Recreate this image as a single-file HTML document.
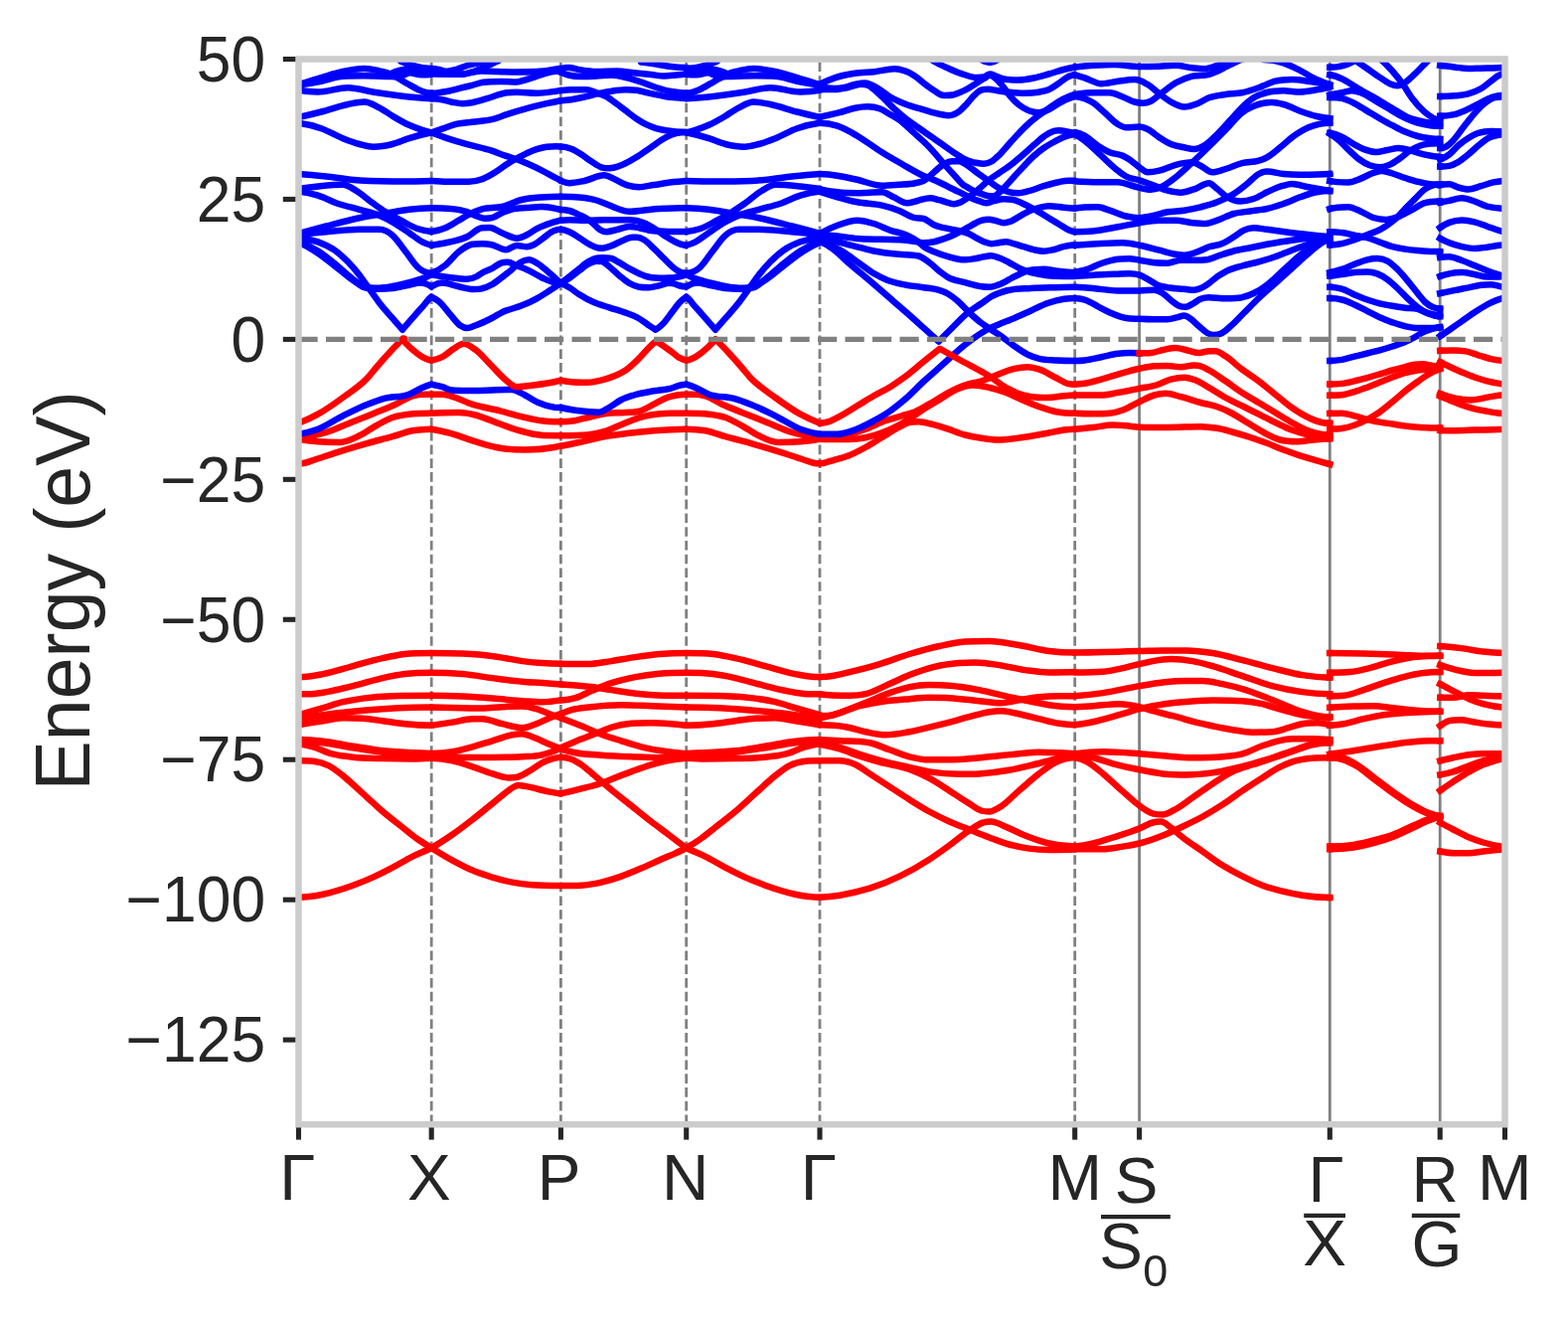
<!DOCTYPE html>
<html lang="en"><head><meta charset="utf-8"><title>Band structure</title>
<style>html,body{margin:0;padding:0;background:#fff}svg{display:block}text{font-family:"Liberation Sans",sans-serif;fill:#262626}</style></head><body>
<svg width="1578" height="1337" viewBox="0 0 1578 1337">
<rect width="1578" height="1337" fill="#ffffff"/>
<defs><clipPath id="ax"><rect x="300.5" y="59.5" width="1214.0" height="1071.7"/></clipPath></defs>
<g stroke="#262626" stroke-width="5.1" fill="none">
<line x1="284.8" y1="59.50" x2="300.5" y2="59.50"/>
<line x1="284.8" y1="200.44" x2="300.5" y2="200.44"/>
<line x1="284.8" y1="341.39" x2="300.5" y2="341.39"/>
<line x1="284.8" y1="482.33" x2="300.5" y2="482.33"/>
<line x1="284.8" y1="623.27" x2="300.5" y2="623.27"/>
<line x1="284.8" y1="764.21" x2="300.5" y2="764.21"/>
<line x1="284.8" y1="905.16" x2="300.5" y2="905.16"/>
<line x1="284.8" y1="1046.10" x2="300.5" y2="1046.10"/>
<line x1="300.5" y1="1131.2" x2="300.5" y2="1146.6"/>
<line x1="434.2" y1="1131.2" x2="434.2" y2="1146.6"/>
<line x1="564.4" y1="1131.2" x2="564.4" y2="1146.6"/>
<line x1="690.7" y1="1131.2" x2="690.7" y2="1146.6"/>
<line x1="825.0" y1="1131.2" x2="825.0" y2="1146.6"/>
<line x1="1081.7" y1="1131.2" x2="1081.7" y2="1146.6"/>
<line x1="1146.6" y1="1131.2" x2="1146.6" y2="1146.6"/>
<line x1="1338.3" y1="1131.2" x2="1338.3" y2="1146.6"/>
<line x1="1449.2" y1="1131.2" x2="1449.2" y2="1146.6"/>
<line x1="1514.5" y1="1131.2" x2="1514.5" y2="1146.6"/>
</g>
<g clip-path="url(#ax)">
<g stroke="#808080" stroke-width="2.8" fill="none">
<line x1="434.2" y1="1131.2" x2="434.2" y2="59.5" stroke-dasharray="9.6 4.155"/>
<line x1="564.4" y1="1131.2" x2="564.4" y2="59.5" stroke-dasharray="9.6 4.155"/>
<line x1="690.7" y1="1131.2" x2="690.7" y2="59.5" stroke-dasharray="9.6 4.155"/>
<line x1="825.0" y1="1131.2" x2="825.0" y2="59.5" stroke-dasharray="9.6 4.155"/>
<line x1="1081.7" y1="1131.2" x2="1081.7" y2="59.5" stroke-dasharray="9.6 4.155"/>
<line x1="1146.6" y1="1131.2" x2="1146.6" y2="59.5"/>
<line x1="1338.3" y1="1131.2" x2="1338.3" y2="59.5"/>
<line x1="1449.2" y1="1131.2" x2="1449.2" y2="59.5"/>
</g>
<g stroke="#ff0000" stroke-width="6.5" fill="none" stroke-linejoin="round" stroke-linecap="round">
<path d="M300.5 440.8C309.8 439.8 319.1 437.9 328.3 435.0C336.7 432.4 345.0 428.3 353.3 425.0C361.7 421.7 370.0 418.4 378.3 415.0C385.0 412.3 391.7 409.7 398.3 406.7C403.9 404.1 409.4 400.0 415.0 398.3C419.4 397.0 423.9 396.7 428.3 396.7C430.3 396.7 432.2 396.7 434.2 396.7"/>
<path d="M300.5 441.7C307.0 442.8 313.5 443.6 320.0 444.2C327.2 444.8 334.4 445.0 341.7 445.0C348.3 445.0 355.0 441.5 361.7 438.3C367.2 435.7 372.8 431.4 378.3 428.3C383.9 425.3 389.4 421.9 395.0 420.0C400.6 418.1 406.1 417.3 411.7 416.7C419.2 415.8 426.7 415.8 434.2 415.8"/>
<path d="M300.5 466.3C302.6 466.3 304.6 466.1 306.7 465.7C310.0 465.0 313.3 463.6 316.7 462.5C323.3 460.4 330.0 458.0 336.7 455.8C347.8 452.3 358.9 449.0 370.0 445.8C378.3 443.5 386.7 441.5 395.0 439.2C401.7 437.3 408.3 434.6 415.0 433.3C421.4 432.1 427.8 431.7 434.2 431.7"/>
<path d="M690.7 396.7C692.7 396.7 694.6 396.7 696.6 396.7C701.1 396.7 705.5 397.0 710.0 398.3C715.6 400.0 721.1 404.1 726.7 406.7C733.4 409.7 740.1 412.3 746.8 415.0C755.2 418.4 763.6 421.7 771.9 425.0C780.3 428.3 788.7 432.4 797.0 435.0C806.4 437.9 815.7 439.8 825.0 440.8"/>
<path d="M690.7 415.8C698.3 415.8 705.8 415.8 713.3 416.7C718.9 417.3 724.5 418.1 730.1 420.0C735.7 421.9 741.2 425.3 746.8 428.3C752.4 431.4 758.0 435.7 763.6 438.3C770.3 441.5 777.0 445.0 783.6 445.0C790.9 445.0 798.2 444.8 805.4 444.2C811.9 443.6 818.5 442.8 825.0 441.7"/>
<path d="M690.7 431.7C697.2 431.7 703.6 432.1 710.0 433.3C716.7 434.6 723.4 437.3 730.1 439.2C738.4 441.5 746.8 443.5 755.2 445.8C766.3 449.0 777.5 452.3 788.7 455.8C795.4 458.0 802.1 460.4 808.8 462.5C812.1 463.6 815.5 465.0 818.8 465.7C820.9 466.1 822.9 466.3 825.0 466.3"/>
<path d="M434.2 396.7C437.8 396.7 441.4 396.7 445.0 396.7C447.8 396.7 450.6 397.6 453.3 398.3C460.6 400.1 467.8 404.4 475.0 406.7C484.4 409.7 493.9 411.0 503.3 413.3C511.7 415.4 520.0 418.1 528.3 420.0C533.9 421.3 539.4 422.6 545.0 423.3C549.3 423.9 553.6 424.2 557.8 424.2C560.0 424.2 562.2 424.2 564.3 424.2"/>
<path d="M434.2 415.8C443.3 415.0 452.5 415.0 461.7 415.0C467.2 415.0 472.8 416.1 478.3 417.5C483.9 418.9 489.4 421.4 495.0 423.3C503.3 426.3 511.7 430.0 520.0 432.5C525.6 434.1 531.1 435.7 536.7 436.7C543.7 437.9 550.8 438.3 557.8 438.3C560.0 438.3 562.2 438.3 564.3 438.3"/>
<path d="M434.2 431.7C440.6 432.7 446.9 434.1 453.3 435.8C461.7 438.1 470.0 441.7 478.3 444.2C486.7 446.7 495.0 449.4 503.3 450.8C511.7 452.2 520.0 452.5 528.3 452.5C538.2 452.5 548.0 451.8 557.8 450.0C560.0 449.6 562.2 449.2 564.3 448.7"/>
<path d="M564.3 424.2C568.9 424.2 573.4 424.0 578.0 423.3C583.6 422.5 589.1 420.4 594.7 419.2C600.2 417.9 605.8 416.5 611.3 415.8C617.4 415.1 623.6 415.5 629.7 415.0C634.7 414.6 639.7 414.9 644.7 413.3C649.1 411.9 653.6 408.9 658.0 406.7C662.4 404.4 666.9 401.6 671.3 400.0C674.7 398.8 678.0 398.1 681.3 397.5C684.4 397.0 687.6 396.7 690.7 396.7"/>
<path d="M564.3 438.3C573.3 438.3 582.3 438.3 591.3 437.5C596.9 437.0 602.4 435.8 608.0 434.2C613.6 432.5 619.1 429.7 624.7 427.5C630.2 425.3 635.8 422.6 641.3 420.8C645.8 419.4 650.2 418.3 654.7 417.5C661.3 416.3 668.0 415.8 674.7 415.8C680.0 415.8 685.3 415.8 690.7 415.8"/>
<path d="M564.3 448.7C570.6 447.5 576.8 446.3 583.0 445.0C591.3 443.2 599.7 440.7 608.0 439.2C616.3 437.6 624.7 436.8 633.0 435.8C641.3 434.9 649.7 434.0 658.0 433.3C668.9 432.5 679.8 431.9 690.7 431.7"/>
<path d="M825.0 440.8C832.0 440.8 839.0 440.4 846.0 439.2C854.3 437.7 862.7 434.7 871.0 431.7C877.7 429.2 884.3 425.7 891.0 423.3C896.6 421.4 902.1 420.0 907.7 418.3C912.1 417.0 916.6 416.0 921.0 414.2C926.6 411.8 932.1 408.2 937.7 405.0C943.2 401.8 948.8 397.9 954.3 395.0C959.9 392.1 965.4 389.4 971.0 387.5C976.6 385.6 982.1 385.1 987.7 383.3C993.2 381.5 998.8 378.7 1004.3 376.7C1009.9 374.6 1015.4 372.1 1021.0 370.8C1025.4 369.8 1029.9 369.2 1034.3 369.2C1038.2 369.2 1042.1 370.4 1046.0 371.7C1051.6 373.5 1057.1 377.2 1062.7 380.0C1066.6 381.9 1070.4 384.8 1074.3 385.8C1076.8 386.5 1079.2 386.7 1081.7 386.7"/>
<path d="M825.0 441.7C834.8 442.0 844.6 442.0 854.3 442.0C859.9 442.0 865.4 441.4 871.0 440.3C876.6 439.2 882.1 437.4 887.7 435.3C893.2 433.3 898.8 430.8 904.3 427.8C907.7 426.1 911.0 424.1 914.3 422.0C919.3 418.9 924.3 414.9 929.3 411.7C934.9 408.1 940.4 405.0 946.0 401.7C951.6 398.3 957.1 394.0 962.7 391.7C968.2 389.3 973.8 387.5 979.3 387.5C984.9 387.5 990.4 388.8 996.0 390.0C1001.6 391.2 1007.1 392.9 1012.7 395.0C1018.2 397.1 1023.8 400.1 1029.3 402.5C1034.9 404.9 1040.4 407.2 1046.0 409.2C1051.6 411.1 1057.1 413.1 1062.7 414.2C1069.0 415.4 1075.3 415.8 1081.7 415.8"/>
<path d="M825.0 466.3C827.0 466.1 829.0 465.8 831.0 465.3C833.2 464.8 835.4 464.0 837.7 463.3C843.2 461.7 848.8 460.6 854.3 458.3C859.9 456.1 865.4 453.1 871.0 450.0C876.6 446.9 882.1 443.3 887.7 440.0C893.2 436.7 898.8 433.0 904.3 430.0C907.7 428.2 911.0 425.8 914.3 425.0C917.7 424.2 921.0 424.2 924.3 424.2C928.8 424.2 933.2 425.6 937.7 426.7C943.2 428.0 948.8 429.9 954.3 431.7C959.9 433.5 965.4 436.0 971.0 437.5C976.6 439.0 982.1 440.0 987.7 440.8C993.2 441.7 998.8 442.5 1004.3 442.5C1012.7 442.5 1021.0 441.1 1029.3 440.0C1037.7 438.9 1046.0 437.4 1054.3 435.8C1059.9 434.8 1065.4 433.2 1071.0 432.5C1074.6 432.1 1078.1 431.8 1081.7 431.7"/>
<path d="M1081.7 386.7C1085.0 386.6 1088.3 386.3 1091.7 385.8C1097.2 385.0 1102.8 383.2 1108.3 381.7C1113.9 380.1 1119.4 378.3 1125.0 376.7C1132.2 374.6 1139.4 372.3 1146.7 370.8C1151.7 369.8 1156.7 368.7 1161.7 368.3C1166.1 368.0 1170.6 368.0 1175.0 368.0C1179.4 368.0 1183.9 369.2 1188.3 369.2C1192.8 369.2 1197.2 367.5 1201.7 367.5C1203.9 367.5 1206.1 367.7 1208.3 368.3C1211.7 369.3 1215.0 371.4 1218.3 373.3C1223.3 376.2 1228.3 379.9 1233.3 383.3C1238.9 387.1 1244.4 391.4 1250.0 395.0C1255.6 398.6 1261.1 401.7 1266.7 405.0C1272.2 408.3 1277.8 411.7 1283.3 415.0C1288.9 418.3 1294.4 421.9 1300.0 425.0C1305.6 428.1 1311.1 431.3 1316.7 433.3C1323.9 436.0 1331.1 437.4 1338.3 437.5"/>
<path d="M1081.7 397.5C1090.6 397.5 1099.4 397.5 1108.3 397.5C1113.9 397.5 1119.4 395.9 1125.0 395.0C1132.2 393.8 1139.4 392.3 1146.7 390.8C1152.2 389.7 1157.8 389.2 1163.3 387.5C1168.3 386.0 1173.3 383.0 1178.3 381.7C1182.8 380.5 1187.2 379.7 1191.7 379.7C1195.6 379.7 1199.4 381.0 1203.3 382.5C1207.8 384.2 1212.2 387.4 1216.7 390.0C1222.2 393.2 1227.8 396.9 1233.3 400.0C1238.9 403.1 1244.4 405.6 1250.0 408.3C1255.6 411.1 1261.1 413.9 1266.7 416.7C1272.2 419.4 1277.8 422.4 1283.3 425.0C1288.9 427.6 1294.4 430.4 1300.0 432.5C1305.6 434.6 1311.1 436.2 1316.7 437.5C1323.9 439.2 1331.1 440.3 1338.3 440.8"/>
<path d="M1081.7 415.8C1087.8 416.2 1093.9 416.3 1100.0 416.3C1105.6 416.3 1111.1 416.3 1116.7 415.8C1121.1 415.4 1125.6 414.1 1130.0 412.5C1135.6 410.5 1141.1 406.8 1146.7 404.2C1151.7 401.8 1156.7 398.9 1161.7 397.5C1165.6 396.4 1169.4 395.8 1173.3 395.8C1178.3 395.8 1183.3 397.9 1188.3 399.2C1195.0 400.8 1201.7 403.2 1208.3 405.0C1213.9 406.5 1219.4 407.2 1225.0 409.2C1229.4 410.7 1233.9 412.7 1238.3 415.0C1243.9 417.8 1249.4 421.7 1255.0 425.0C1260.6 428.3 1266.1 432.1 1271.7 435.0C1277.2 437.9 1282.8 441.0 1288.3 442.5C1293.9 444.0 1299.4 444.2 1305.0 444.2C1310.6 444.2 1316.1 443.0 1321.7 442.5C1327.2 442.0 1332.8 441.6 1338.3 441.3"/>
<path d="M1081.7 431.7C1087.8 431.2 1093.9 430.7 1100.0 430.0C1106.7 429.3 1113.3 427.5 1120.0 427.5C1124.4 427.5 1128.9 428.0 1133.3 428.3C1137.8 428.7 1142.2 429.5 1146.7 429.7C1156.1 430.0 1165.6 430.0 1175.0 430.0C1186.1 430.0 1197.2 429.2 1208.3 429.2C1213.9 429.2 1219.4 429.9 1225.0 430.8C1230.6 431.8 1236.1 433.5 1241.7 435.0C1247.2 436.5 1252.8 438.2 1258.3 440.0C1263.9 441.8 1269.4 443.8 1275.0 445.8C1280.6 447.9 1286.1 450.4 1291.7 452.5C1297.2 454.6 1302.8 456.5 1308.3 458.3C1313.9 460.1 1319.4 461.7 1325.0 463.3C1329.4 464.6 1333.9 465.8 1338.3 467.0"/>
<path d="M1338.2 386.5C1342.3 386.5 1346.4 386.4 1350.4 385.9C1354.7 385.3 1358.9 384.3 1363.1 383.3C1367.4 382.4 1371.6 381.3 1375.9 380.1C1380.1 379.0 1384.3 377.6 1388.6 376.3C1392.8 375.1 1397.0 373.7 1401.3 372.5C1405.5 371.3 1409.8 370.1 1414.0 369.1C1417.4 368.2 1420.8 367.3 1424.2 366.8C1426.7 366.4 1429.3 366.2 1431.8 366.2C1434.3 366.2 1436.9 366.9 1439.4 367.4C1442.7 368.1 1446.0 368.9 1449.2 370.0"/>
<path d="M1338.2 397.7C1342.3 397.7 1346.4 397.7 1350.4 397.3C1354.7 396.9 1358.9 395.4 1363.1 394.1C1367.4 392.9 1371.6 391.3 1375.9 389.7C1380.1 388.1 1384.3 386.3 1388.6 384.6C1392.8 382.9 1397.0 381.1 1401.3 379.5C1405.5 377.9 1409.8 376.2 1414.0 375.1C1418.2 373.9 1422.5 373.1 1426.7 372.5C1431.0 371.9 1435.2 371.6 1439.4 371.2C1442.7 371.0 1446.0 370.8 1449.2 370.6"/>
<path d="M1338.2 415.9C1342.3 415.7 1346.4 415.7 1350.4 415.7C1354.7 415.7 1358.9 417.2 1363.1 418.3C1367.4 419.3 1371.6 421.0 1375.9 422.1C1380.1 423.2 1384.3 423.9 1388.6 424.6C1392.8 425.4 1397.0 425.9 1401.3 426.5C1405.5 427.2 1409.8 427.9 1414.0 428.5C1418.2 429.0 1422.5 429.4 1426.7 429.7C1431.0 430.0 1435.2 430.2 1439.4 430.4C1442.7 430.5 1446.0 430.6 1449.2 430.6"/>
<path d="M1338.2 431.6C1342.3 431.6 1346.4 431.6 1350.4 431.0C1354.7 430.4 1358.9 429.3 1363.1 427.8C1367.4 426.3 1371.6 424.3 1375.9 422.1C1380.1 419.9 1384.3 417.4 1388.6 414.5C1392.8 411.5 1397.0 407.8 1401.3 404.3C1405.5 400.8 1409.8 396.9 1414.0 393.5C1418.2 390.1 1422.5 387.0 1426.7 384.0C1430.1 381.5 1433.5 378.9 1436.9 377.0C1441.0 374.5 1445.1 372.6 1449.2 371.2"/>
<path d="M1449.2 364.2C1452.3 365.8 1455.4 367.2 1458.5 368.7C1462.7 370.7 1467.0 372.6 1471.2 374.4C1475.5 376.2 1479.7 378.0 1483.9 379.5C1488.2 381.0 1492.4 382.3 1496.6 383.3C1500.9 384.4 1505.1 385.2 1509.4 385.9C1511.1 386.1 1512.8 386.3 1514.4 386.5"/>
<path d="M1449.2 396.0C1452.3 397.3 1455.4 398.3 1458.5 399.2C1462.7 400.4 1467.0 401.2 1471.2 401.8C1474.2 402.1 1477.2 402.4 1480.1 402.4C1483.5 402.4 1486.9 401.7 1490.3 401.1C1494.5 400.4 1498.8 399.2 1503.0 398.6C1506.8 398.0 1510.6 397.6 1514.4 397.3"/>
<path d="M1449.2 398.6C1452.3 399.9 1455.4 401.1 1458.5 402.4C1462.7 404.1 1467.0 406.0 1471.2 407.5C1475.5 409.0 1479.7 410.2 1483.9 411.3C1488.2 412.3 1492.4 413.1 1496.6 413.8C1500.9 414.6 1505.1 415.4 1509.4 415.7C1511.1 415.9 1512.8 416.0 1514.4 416.0"/>
<path d="M1449.2 432.9C1454.4 433.1 1459.6 433.2 1464.9 433.2C1471.2 433.2 1477.6 432.8 1483.9 432.6C1490.3 432.5 1496.6 432.4 1503.0 432.3C1506.8 432.2 1510.6 432.0 1514.4 431.9"/>
<path d="M300.4 681.1C304.0 681.1 307.5 680.9 311.0 680.5C315.7 680.0 320.4 679.0 325.1 678.1C335.1 676.1 345.1 672.8 355.2 670.1C365.2 667.4 375.2 664.2 385.2 662.1C392.6 660.5 399.9 658.9 407.3 658.0C416.2 657.0 425.2 657.0 434.2 657.0"/>
<path d="M300.4 698.2C304.0 698.2 307.5 698.2 311.0 698.2C315.7 698.2 320.4 697.4 325.1 696.7C335.1 695.4 345.1 692.6 355.2 690.1C365.2 687.7 375.2 684.3 385.2 682.1C392.6 680.5 399.9 679.0 407.3 678.1C416.2 677.0 425.2 676.7 434.2 676.7"/>
<path d="M300.4 719.2C308.6 716.9 316.9 714.6 325.1 712.2C331.8 710.2 338.4 707.8 345.1 706.2C351.8 704.6 358.5 703.5 365.2 702.6C375.2 701.2 385.2 700.5 395.3 700.2C408.2 699.8 421.2 699.8 434.2 699.8"/>
<path d="M300.4 723.2C308.6 721.7 316.9 720.4 325.1 719.2C335.1 717.8 345.1 716.8 355.2 715.8C365.2 714.8 375.2 713.9 385.2 713.2C395.3 712.5 405.3 712.0 415.3 711.8C421.6 711.6 427.9 711.6 434.2 711.6"/>
<path d="M300.4 729.2C308.6 727.8 316.9 726.5 325.1 725.2C331.8 724.2 338.4 722.2 345.1 722.2C351.8 722.2 358.5 722.3 365.2 722.8C371.9 723.3 378.6 724.4 385.2 725.2C392.6 726.2 399.9 727.5 407.3 728.2C416.2 729.1 425.2 729.7 434.2 729.8"/>
<path d="M300.4 743.9C308.6 744.1 316.9 744.7 325.1 745.7C335.1 746.8 345.1 749.1 355.2 750.7C365.2 752.3 375.2 754.2 385.2 755.3C395.3 756.4 405.3 756.9 415.3 757.3C421.6 757.6 427.9 757.8 434.2 757.9"/>
<path d="M300.4 745.3C308.6 745.6 316.9 746.3 325.1 747.3C335.1 748.5 345.1 750.7 355.2 752.3C365.2 753.9 375.2 755.5 385.2 756.7C395.3 757.9 405.3 758.6 415.3 759.3C421.6 759.7 427.9 760.1 434.2 760.3"/>
<path d="M300.4 748.3C305.3 748.9 310.2 749.9 315.1 751.3C321.7 753.1 328.4 757.0 335.1 758.7C341.8 760.4 348.5 761.0 355.2 761.7C365.2 762.8 375.2 762.8 385.2 763.1C395.3 763.4 405.3 763.5 415.3 763.5C421.6 763.5 427.9 763.1 434.2 762.7"/>
<path d="M300.4 765.3C305.3 765.3 310.2 765.3 315.1 765.7C320.4 766.2 325.7 767.6 331.1 770.3C335.8 772.7 340.5 776.7 345.1 780.4C351.8 785.7 358.5 792.4 365.2 798.4C371.9 804.4 378.6 810.8 385.2 816.5C391.9 822.1 398.6 827.2 405.3 832.5C410.0 836.2 414.6 840.2 419.3 843.5C424.3 847.1 429.2 849.9 434.2 853.0"/>
<path d="M300.4 902.7C304.0 902.7 307.5 902.5 311.0 902.1C315.7 901.6 320.4 900.7 325.1 899.7C335.1 897.5 345.1 894.3 355.2 890.7C361.8 888.2 368.5 885.6 375.2 882.6C381.9 879.6 388.6 876.1 395.3 872.6C401.9 869.1 408.6 864.9 415.3 861.6C421.6 858.4 427.9 856.3 434.2 853.0"/>
<path d="M690.7 657.0C699.7 657.0 708.7 657.0 717.7 658.0C725.1 658.9 732.5 660.5 739.9 662.1C750.0 664.2 760.0 667.4 770.1 670.1C780.2 672.8 790.2 676.1 800.3 678.1C805.0 679.0 809.7 680.0 814.4 680.5C818.0 680.9 821.5 681.1 825.1 681.1"/>
<path d="M690.7 676.7C699.7 676.7 708.7 677.0 717.7 678.1C725.1 679.0 732.5 680.5 739.9 682.1C750.0 684.3 760.0 687.7 770.1 690.1C780.2 692.6 790.2 695.4 800.3 696.7C805.0 697.4 809.7 698.2 814.4 698.2C818.0 698.2 821.5 698.2 825.1 698.2"/>
<path d="M690.7 699.8C703.8 699.8 716.8 699.8 729.8 700.2C739.9 700.5 750.0 701.2 760.0 702.6C766.7 703.5 773.5 704.6 780.2 706.2C786.9 707.8 793.6 710.2 800.3 712.2C808.6 714.6 816.8 716.9 825.1 719.2"/>
<path d="M690.7 711.6C697.0 711.6 703.4 711.6 709.7 711.8C719.7 712.0 729.8 712.5 739.9 713.2C750.0 713.9 760.0 714.8 770.1 715.8C780.2 716.8 790.2 717.8 800.3 719.2C808.6 720.4 816.8 721.7 825.1 723.2"/>
<path d="M690.7 729.8C699.7 729.7 708.7 729.1 717.7 728.2C725.1 727.5 732.5 726.2 739.9 725.2C746.6 724.4 753.3 723.3 760.0 722.8C766.7 722.3 773.5 722.2 780.2 722.2C786.9 722.2 793.6 724.2 800.3 725.2C808.6 726.5 816.8 727.8 825.1 729.2"/>
<path d="M690.7 757.9C697.0 757.8 703.4 757.6 709.7 757.3C719.7 756.9 729.8 756.4 739.9 755.3C750.0 754.2 760.0 752.3 770.1 750.7C780.2 749.1 790.2 746.8 800.3 745.7C808.6 744.7 816.8 744.1 825.1 743.9"/>
<path d="M690.7 760.3C697.0 760.1 703.4 759.7 709.7 759.3C719.7 758.6 729.8 757.9 739.9 756.7C750.0 755.5 760.0 753.9 770.1 752.3C780.2 750.7 790.2 748.5 800.3 747.3C808.6 746.3 816.8 745.6 825.1 745.3"/>
<path d="M690.7 762.7C697.0 763.1 703.4 763.5 709.7 763.5C719.7 763.5 729.8 763.4 739.9 763.1C750.0 762.8 760.0 762.8 770.1 761.7C776.8 761.0 783.5 760.4 790.2 758.7C797.0 757.0 803.7 753.1 810.4 751.3C815.3 749.9 820.2 748.9 825.1 748.3"/>
<path d="M690.7 853.0C695.7 849.9 700.7 847.1 705.6 843.5C710.3 840.2 715.0 836.2 719.7 832.5C726.5 827.2 733.2 822.1 739.9 816.5C746.6 810.8 753.3 804.4 760.0 798.4C766.7 792.4 773.5 785.7 780.2 780.4C784.9 776.7 789.6 772.7 794.3 770.3C799.6 767.6 805.0 766.2 810.4 765.7C815.3 765.3 820.2 765.3 825.1 765.3"/>
<path d="M690.7 853.0C697.0 856.3 703.4 858.4 709.7 861.6C716.4 864.9 723.1 869.1 729.8 872.6C736.5 876.1 743.2 879.6 750.0 882.6C756.7 885.6 763.4 888.2 770.1 890.7C780.2 894.3 790.2 897.5 800.3 899.7C805.0 900.7 809.7 901.6 814.4 902.1C818.0 902.5 821.5 902.7 825.1 902.7"/>
<path d="M434.2 657.0C444.6 657.0 455.0 657.1 465.4 657.6C475.5 658.1 485.5 658.8 495.5 660.1C505.5 661.3 515.6 663.8 525.6 665.1C532.3 665.9 539.0 666.6 545.7 667.1C551.9 667.5 558.2 667.7 564.5 667.7"/>
<path d="M434.2 676.7C444.6 676.7 455.0 677.2 465.4 678.1C475.5 679.0 485.5 680.8 495.5 682.1C505.5 683.4 515.6 684.8 525.6 685.7C532.3 686.3 539.0 686.6 545.7 687.1C551.9 687.6 558.2 688.0 564.5 688.5"/>
<path d="M434.2 699.8C444.6 699.8 455.0 700.1 465.4 700.6C475.5 701.0 485.5 701.8 495.5 702.6C505.5 703.3 515.6 704.5 525.6 705.2C532.3 705.6 539.0 706.2 545.7 706.2C551.9 706.2 558.2 705.4 564.5 704.4"/>
<path d="M434.2 711.6C444.6 711.8 455.0 712.0 465.4 712.2C472.1 712.3 478.8 712.6 485.5 712.6C492.2 712.6 498.9 711.5 505.5 711.2C512.2 710.9 518.9 710.6 525.6 710.6C530.3 710.6 535.0 711.9 539.6 713.2C545.0 714.7 550.3 717.3 555.7 719.2C558.6 720.2 561.6 721.2 564.5 722.2"/>
<path d="M434.2 729.8C441.2 728.8 448.3 727.8 455.4 726.6C462.1 725.6 468.8 723.2 475.5 723.2C478.8 723.2 482.2 723.2 485.5 723.2C492.2 723.2 498.9 726.7 505.5 728.2C512.2 729.7 518.9 732.2 525.6 732.2C530.3 732.2 535.0 729.9 539.6 728.2C545.0 726.3 550.3 723.2 555.7 721.2C558.6 720.1 561.6 719.1 564.5 718.2"/>
<path d="M434.2 757.9C441.2 757.9 448.3 757.5 455.4 756.3C462.1 755.2 468.8 753.1 475.5 751.3C482.2 749.5 488.8 747.3 495.5 745.3C502.2 743.3 508.9 740.4 515.6 739.3C518.9 738.7 522.3 738.3 525.6 738.3C528.9 738.3 532.3 740.1 535.6 741.3C541.0 743.2 546.3 746.1 551.7 748.3C555.9 750.0 560.2 751.7 564.5 753.3"/>
<path d="M434.2 760.3C444.6 761.1 455.0 761.9 465.4 761.9C475.5 761.9 485.5 761.9 495.5 761.9C505.5 761.9 515.6 761.9 525.6 761.3C532.3 760.9 539.0 760.9 545.7 759.3C549.0 758.5 552.3 757.6 555.7 756.3C558.6 755.2 561.6 753.8 564.5 752.3"/>
<path d="M434.2 762.7C441.2 762.9 448.3 763.8 455.4 765.3C462.1 766.8 468.8 769.2 475.5 771.3C482.2 773.5 488.8 776.4 495.5 778.4C500.9 779.9 506.2 782.4 511.6 782.4C514.2 782.4 516.9 782.4 519.6 782.0C523.6 781.4 527.6 778.6 531.6 776.4C536.3 773.8 541.0 769.7 545.7 767.3C549.0 765.7 552.3 764.3 555.7 763.3C558.6 762.5 561.6 762.0 564.5 761.7"/>
<path d="M434.2 853.0C441.2 849.1 448.3 844.4 455.4 839.5C462.1 834.9 468.8 829.7 475.5 824.5C482.2 819.3 488.8 813.8 495.5 808.4C500.9 804.1 506.2 799.2 511.6 795.4C513.6 794.0 515.6 792.3 517.6 791.4C518.9 790.8 520.3 790.0 521.6 790.0C523.6 790.0 525.6 790.5 527.6 790.8C530.3 791.2 533.0 791.8 535.6 792.4C541.0 793.6 546.3 795.3 551.7 796.4C555.9 797.3 560.2 797.9 564.5 798.4"/>
<path d="M434.2 853.0C441.2 857.3 448.3 861.7 455.4 865.6C462.1 869.2 468.8 872.8 475.5 875.6C482.2 878.5 488.8 880.6 495.5 882.6C502.2 884.6 508.9 886.4 515.6 887.6C522.3 888.9 528.9 889.7 535.6 890.3C545.3 891.1 554.9 891.1 564.5 891.1"/>
<path d="M564.4 667.7C573.3 668.1 582.2 668.1 591.1 668.1C599.1 668.1 607.1 666.2 615.2 665.1C623.2 663.9 631.2 662.2 639.2 661.1C647.2 659.9 655.3 658.7 663.3 658.0C672.4 657.3 681.6 657.0 690.8 657.0"/>
<path d="M564.4 688.5C574.7 689.0 584.9 689.9 595.1 691.1C601.8 692.0 608.5 693.2 615.2 694.1C625.2 695.6 635.2 697.2 645.2 698.2C655.3 699.1 665.3 699.8 675.3 699.8C680.5 699.8 685.6 699.8 690.8 699.8"/>
<path d="M564.4 704.4C569.3 704.3 574.2 703.6 579.1 702.2C584.4 700.6 589.8 697.4 595.1 695.1C601.8 692.3 608.5 689.3 615.2 687.1C623.2 684.5 631.2 682.7 639.2 681.1C647.2 679.5 655.3 678.4 663.3 677.7C672.4 676.9 681.6 676.7 690.8 676.7"/>
<path d="M564.4 718.2C568.0 716.6 571.5 715.3 575.1 714.2C581.7 712.2 588.4 712.0 595.1 711.2C605.1 710.0 615.2 709.2 625.2 709.2C635.2 709.2 645.2 709.8 655.3 710.2C667.1 710.6 678.9 711.1 690.8 711.6"/>
<path d="M564.4 722.2C571.3 724.8 578.2 727.5 585.1 730.2C591.8 732.9 598.4 736.1 605.1 738.7C611.8 741.2 618.5 743.2 625.2 745.3C631.9 747.4 638.6 749.6 645.2 751.3C651.9 753.0 658.6 754.2 665.3 755.3C673.8 756.7 682.3 757.7 690.8 758.3"/>
<path d="M564.4 752.3C569.3 750.0 574.2 747.9 579.1 745.9C584.4 743.7 589.8 741.7 595.1 739.7C598.4 738.4 601.8 737.2 605.1 735.8C608.5 734.5 611.8 733.0 615.2 731.8C621.8 729.6 628.5 728.4 635.2 727.8C641.9 727.2 648.6 727.2 655.3 727.2C661.9 727.2 668.6 727.7 675.3 728.2C680.5 728.6 685.6 729.2 690.8 729.8"/>
<path d="M564.4 753.7C569.3 755.2 574.2 756.4 579.1 757.3C587.8 759.0 596.4 759.1 605.1 759.7C615.2 760.5 625.2 760.9 635.2 761.3C645.2 761.7 655.3 762.3 665.3 762.3C673.8 762.3 682.3 762.0 690.8 761.5"/>
<path d="M564.4 761.7C568.0 761.7 571.5 762.4 575.1 763.7C578.4 765.0 581.7 767.1 585.1 769.3C588.4 771.6 591.8 774.6 595.1 777.4C598.4 780.1 601.8 783.1 605.1 786.0C608.5 788.8 611.8 791.6 615.2 794.4C621.8 799.9 628.5 805.1 635.2 810.4C641.9 815.8 648.6 821.3 655.3 826.5C660.6 830.6 666.0 834.5 671.3 838.5C677.8 843.4 684.3 848.7 690.8 853.0"/>
<path d="M564.4 798.4C571.3 796.8 578.2 795.2 585.1 793.4C591.8 791.7 598.4 790.4 605.1 788.0C608.5 786.8 611.8 785.3 615.2 784.0C621.8 781.3 628.5 778.8 635.2 776.4C641.9 773.9 648.6 771.3 655.3 769.3C660.6 767.8 666.0 766.4 671.3 765.3C677.8 764.0 684.3 763.2 690.8 762.7"/>
<path d="M564.4 891.1C571.3 891.1 578.2 891.1 585.1 890.7C591.8 890.3 598.4 889.1 605.1 887.6C611.8 886.1 618.5 884.0 625.2 881.6C631.9 879.3 638.6 876.4 645.2 873.6C651.9 870.8 658.6 867.5 665.3 864.6C670.0 862.5 674.6 860.7 679.3 858.6C683.1 856.8 686.9 855.0 690.8 853.0"/>
<path d="M825.0 681.1C829.7 680.9 834.4 680.4 839.1 679.7C844.4 678.9 849.8 677.4 855.1 676.1C865.1 673.7 875.2 671.1 885.2 668.1C895.2 665.1 905.2 661.1 915.3 658.0C925.3 655.0 935.3 652.2 945.3 650.0C954.0 648.2 962.7 646.3 971.4 645.6C979.4 645.0 987.4 645.0 995.5 645.0C1005.5 645.0 1015.5 647.4 1025.5 649.0C1035.6 650.7 1045.6 653.8 1055.6 655.0C1064.3 656.1 1073.0 656.6 1081.7 656.6"/>
<path d="M825.0 698.2C835.1 699.7 845.1 699.8 855.1 699.8C860.5 699.8 865.8 699.4 871.1 698.2C879.2 696.3 887.2 691.6 895.2 688.1C901.9 685.2 908.6 681.8 915.3 679.1C923.3 675.9 931.3 673.1 939.3 671.1C948.0 668.9 956.7 667.8 965.4 667.1C970.7 666.6 976.1 666.5 981.4 666.5C989.5 666.5 997.5 667.9 1005.5 669.1C1014.2 670.4 1022.9 672.8 1031.6 674.1C1039.6 675.2 1047.6 676.5 1055.6 676.5C1064.3 676.5 1073.0 676.5 1081.7 676.1"/>
<path d="M825.0 720.2C829.7 720.2 834.4 720.2 839.1 719.2C844.4 718.1 849.8 715.3 855.1 713.2C861.8 710.6 868.5 707.8 875.2 705.2C881.8 702.5 888.5 699.5 895.2 697.1C901.9 694.8 908.6 692.5 915.3 691.1C921.9 689.8 928.6 689.1 935.3 689.1C942.0 689.1 948.7 689.2 955.4 689.7C965.4 690.5 975.4 692.2 985.4 694.1C995.5 696.0 1005.5 699.0 1015.5 701.2C1022.2 702.6 1028.9 703.8 1035.6 705.2C1042.3 706.5 1048.9 708.2 1055.6 709.2C1064.3 710.5 1073.0 711.1 1081.7 711.2"/>
<path d="M825.0 722.6C831.7 721.1 838.4 719.3 845.1 717.2C851.8 715.1 858.4 712.0 865.1 710.2C871.8 708.3 878.5 707.2 885.2 706.2C895.2 704.6 905.2 704.0 915.3 703.2C921.9 702.6 928.6 701.8 935.3 701.8C942.0 701.8 948.7 701.8 955.4 702.2C965.4 702.7 975.4 704.2 985.4 705.2C992.8 705.9 1000.1 707.2 1007.5 707.2C1013.5 707.2 1019.5 705.1 1025.5 704.2C1032.2 703.1 1038.9 701.8 1045.6 701.2C1052.3 700.5 1059.0 700.2 1065.7 700.2C1071.0 700.2 1076.3 700.2 1081.7 700.2"/>
<path d="M825.0 729.2C833.7 729.2 842.4 729.7 851.1 731.2C857.8 732.4 864.5 734.9 871.1 736.3C877.8 737.6 884.5 739.3 891.2 739.3C899.2 739.3 907.2 737.6 915.3 736.3C925.3 734.5 935.3 731.7 945.3 729.2C955.4 726.7 965.4 723.8 975.4 721.2C982.1 719.5 988.8 717.2 995.5 716.2C999.5 715.6 1003.5 715.2 1007.5 715.2C1013.5 715.2 1019.5 717.0 1025.5 718.2C1032.2 719.6 1038.9 721.6 1045.6 723.2C1052.3 724.8 1059.0 726.8 1065.7 727.8C1071.0 728.6 1076.3 729.1 1081.7 729.2"/>
<path d="M825.0 744.3C831.7 744.6 838.4 744.9 845.1 745.3C855.1 745.8 865.1 745.3 875.2 747.3C881.8 748.6 888.5 752.0 895.2 754.3C901.9 756.6 908.6 759.6 915.3 761.3C921.9 763.0 928.6 764.3 935.3 764.3C945.3 764.3 955.4 764.3 965.4 763.9C975.4 763.5 985.4 762.3 995.5 761.3C1005.5 760.4 1015.5 759.2 1025.5 758.3C1032.2 757.7 1038.9 756.7 1045.6 756.7C1052.3 756.7 1059.0 757.0 1065.7 757.3C1071.0 757.6 1076.3 757.9 1081.7 758.3"/>
<path d="M825.0 746.7C831.7 748.1 838.4 749.9 845.1 751.9C851.8 753.9 858.4 756.7 865.1 758.9C871.8 761.1 878.5 763.1 885.2 764.9C895.2 767.7 905.2 769.7 915.3 771.9C921.9 773.4 928.6 775.3 935.3 776.4C945.3 778.0 955.4 778.8 965.4 778.8C972.1 778.8 978.8 778.8 985.4 778.4C995.5 777.8 1005.5 776.6 1015.5 774.8C1022.2 773.5 1028.9 771.9 1035.6 770.3C1042.3 768.8 1048.9 767.0 1055.6 765.3C1061.0 764.0 1066.3 762.2 1071.7 761.3C1075.0 760.8 1078.4 760.5 1081.7 760.3"/>
<path d="M825.0 748.7C831.7 749.9 838.4 751.5 845.1 753.5C851.8 755.5 858.4 758.5 865.1 760.7C871.8 762.9 878.5 764.9 885.2 766.7C895.2 769.5 905.2 770.3 915.3 773.9C921.9 776.4 928.6 779.2 935.3 782.8C942.0 786.3 948.7 791.1 955.4 795.4C962.0 799.7 968.7 804.4 975.4 808.4C979.4 810.9 983.4 814.2 987.4 815.5C990.1 816.3 992.8 816.5 995.5 816.5C998.8 816.5 1002.2 814.3 1005.5 812.4C1012.2 808.8 1018.9 801.1 1025.5 795.4C1032.2 789.7 1038.9 783.5 1045.6 778.4C1050.3 774.8 1055.0 770.9 1059.6 768.3C1063.6 766.1 1067.7 764.4 1071.7 763.3C1075.0 762.4 1078.4 762.0 1081.7 761.9"/>
<path d="M825.0 765.3C831.7 765.3 838.4 765.3 845.1 765.3C850.4 765.3 855.8 766.9 861.1 769.3C865.8 771.5 870.5 775.3 875.2 778.4C881.8 782.7 888.5 787.0 895.2 791.4C901.9 795.7 908.6 800.2 915.3 804.4C921.9 808.6 928.6 812.8 935.3 816.5C942.0 820.1 948.7 823.5 955.4 826.5C962.0 829.5 968.7 831.8 975.4 834.5C982.1 837.2 988.8 840.0 995.5 842.5C1002.2 845.0 1008.8 847.7 1015.5 849.5C1022.2 851.4 1028.9 852.7 1035.6 853.6C1042.3 854.5 1048.9 855.0 1055.6 855.0C1064.3 855.0 1073.0 855.0 1081.7 854.6"/>
<path d="M825.0 902.7C831.7 902.4 838.4 901.7 845.1 900.7C855.1 899.1 865.1 896.8 875.2 893.7C885.2 890.5 895.2 886.5 905.2 881.6C915.3 876.8 925.3 871.1 935.3 864.6C942.0 860.3 948.7 855.4 955.4 850.5C962.0 845.7 968.7 839.8 975.4 835.5C980.1 832.5 984.8 828.8 989.5 827.5C992.1 826.7 994.8 826.5 997.5 826.5C1002.2 826.5 1006.8 829.6 1011.5 831.5C1018.2 834.1 1024.9 837.9 1031.6 840.5C1039.6 843.7 1047.6 846.7 1055.6 848.5C1064.3 850.5 1073.0 851.5 1081.7 851.6"/>
<path d="M1081.6 656.6C1091.1 656.5 1100.6 656.3 1110.1 656.0C1122.3 655.8 1134.4 655.4 1146.6 655.0C1154.5 654.8 1162.4 654.4 1170.3 654.4C1178.3 654.4 1186.3 654.4 1194.3 654.4C1203.0 654.4 1211.7 655.6 1220.4 657.0C1230.4 658.7 1240.4 661.6 1250.5 664.1C1260.5 666.6 1270.5 669.6 1280.5 672.1C1290.6 674.6 1300.6 677.5 1310.6 679.1C1319.8 680.6 1329.1 681.5 1338.3 681.7"/>
<path d="M1081.6 676.5C1091.1 676.5 1100.6 676.5 1110.1 675.7C1116.8 675.1 1123.5 673.5 1130.2 672.1C1135.6 670.9 1141.1 669.3 1146.6 668.1C1151.1 667.0 1155.7 665.9 1160.2 665.1C1166.3 664.0 1172.3 663.1 1178.3 663.1C1185.6 663.1 1193.0 663.8 1200.3 665.1C1207.0 666.2 1213.7 668.2 1220.4 670.1C1230.4 672.9 1240.4 676.8 1250.5 680.1C1260.5 683.4 1270.5 687.5 1280.5 690.1C1290.6 692.8 1300.6 694.8 1310.6 696.1C1319.8 697.4 1329.1 698.0 1338.3 698.2"/>
<path d="M1081.6 700.2C1091.1 699.5 1100.6 698.5 1110.1 697.1C1122.3 695.4 1134.4 692.2 1146.6 690.1C1154.5 688.8 1162.4 687.4 1170.3 686.5C1178.3 685.7 1186.3 685.1 1194.3 685.1C1199.7 685.1 1205.0 685.1 1210.4 685.1C1217.0 685.1 1223.7 686.8 1230.4 688.1C1237.1 689.5 1243.8 691.1 1250.5 693.1C1257.2 695.1 1263.8 697.6 1270.5 700.2C1277.2 702.7 1283.9 705.5 1290.6 708.2C1297.3 710.9 1303.9 714.1 1310.6 716.2C1316.0 717.9 1321.3 719.4 1326.7 720.2C1330.5 720.8 1334.4 721.1 1338.3 721.2"/>
<path d="M1081.6 711.2C1087.8 710.9 1093.9 710.6 1100.1 710.2C1108.8 709.6 1117.5 708.2 1126.1 708.2C1133.0 708.2 1139.8 709.6 1146.6 711.2C1151.1 712.3 1155.7 713.9 1160.2 715.2C1166.9 717.0 1173.6 718.5 1180.3 720.2C1190.3 722.8 1200.3 725.9 1210.4 728.2C1220.4 730.6 1230.4 732.7 1240.4 734.2C1247.1 735.3 1253.8 736.7 1260.5 736.7C1267.2 736.7 1273.9 736.7 1280.5 736.3C1285.9 735.9 1291.2 733.7 1296.6 732.2C1301.3 731.0 1305.9 729.1 1310.6 728.2C1316.0 727.3 1321.3 727.2 1326.7 727.2C1330.5 727.2 1334.4 728.2 1338.3 729.2"/>
<path d="M1081.6 729.2C1087.8 728.5 1093.9 727.5 1100.1 726.2C1108.8 724.4 1117.5 721.7 1126.1 719.2C1133.0 717.3 1139.8 714.9 1146.6 713.2C1151.1 712.1 1155.7 711.1 1160.2 710.2C1170.3 708.2 1180.3 707.1 1190.3 706.2C1200.3 705.2 1210.4 704.6 1220.4 704.6C1230.4 704.6 1240.4 704.6 1250.5 705.2C1257.2 705.6 1263.8 706.7 1270.5 708.2C1277.2 709.7 1283.9 712.4 1290.6 714.2C1297.3 716.0 1303.9 718.0 1310.6 719.2C1319.8 720.9 1329.1 721.8 1338.3 721.8"/>
<path d="M1081.6 758.3C1091.1 757.1 1100.6 756.3 1110.1 756.3C1122.3 756.3 1134.4 757.4 1146.6 758.3C1154.5 758.9 1162.4 759.7 1170.3 760.3C1180.3 761.1 1190.3 762.3 1200.3 762.3C1210.4 762.3 1220.4 762.3 1230.4 761.3C1237.1 760.6 1243.8 760.1 1250.5 758.3C1257.2 756.5 1263.8 752.6 1270.5 750.3C1275.9 748.4 1281.2 746.5 1286.6 745.3C1291.2 744.2 1295.9 743.3 1300.6 743.3C1307.3 743.3 1314.0 743.3 1320.7 743.3C1326.5 743.3 1332.4 743.8 1338.3 744.3"/>
<path d="M1081.6 760.3C1087.8 760.4 1093.9 761.1 1100.1 762.3C1106.8 763.7 1113.4 766.5 1120.1 768.3C1129.0 770.7 1137.8 772.6 1146.6 774.3C1154.5 775.9 1162.4 777.5 1170.3 778.4C1178.3 779.2 1186.3 779.4 1194.3 779.4C1203.0 779.4 1211.7 778.6 1220.4 777.4C1227.1 776.4 1233.8 774.9 1240.4 773.3C1247.1 771.8 1253.8 770.2 1260.5 768.3C1267.2 766.5 1273.9 764.5 1280.5 762.3C1287.2 760.1 1293.9 757.6 1300.6 755.3C1307.3 753.0 1314.0 749.9 1320.7 748.3C1326.5 746.9 1332.4 746.1 1338.3 745.9"/>
<path d="M1081.6 762.3C1085.8 762.9 1089.9 764.2 1094.1 766.3C1099.4 769.1 1104.8 774.0 1110.1 778.4C1116.8 783.8 1123.5 790.6 1130.2 796.4C1135.6 801.2 1141.1 806.6 1146.6 810.4C1151.1 813.7 1155.7 817.1 1160.2 818.5C1163.6 819.5 1166.9 819.5 1170.3 819.5C1174.3 819.5 1178.3 816.5 1182.3 814.5C1188.3 811.3 1194.3 806.5 1200.3 802.4C1207.0 797.9 1213.7 792.7 1220.4 788.4C1227.1 784.0 1233.8 779.5 1240.4 776.4C1247.1 773.2 1253.8 771.6 1260.5 769.3C1267.2 767.1 1273.9 765.0 1280.5 762.7C1287.2 760.5 1293.9 758.1 1300.6 755.9C1307.3 753.7 1314.0 750.7 1320.7 749.3C1326.5 748.0 1332.4 747.4 1338.3 747.3"/>
<path d="M1081.6 851.6C1087.8 851.0 1093.9 849.9 1100.1 848.5C1106.8 847.0 1113.4 844.6 1120.1 842.5C1129.0 839.7 1137.8 837.1 1146.6 833.5C1151.1 831.7 1155.7 828.6 1160.2 827.5C1162.9 826.8 1165.6 826.5 1168.3 826.5C1171.6 826.5 1174.9 830.1 1178.3 832.5C1182.3 835.3 1186.3 839.4 1190.3 842.5C1197.0 847.8 1203.7 851.9 1210.4 856.6C1217.0 861.2 1223.7 866.4 1230.4 870.6C1237.1 874.8 1243.8 878.3 1250.5 881.6C1257.2 885.0 1263.8 888.1 1270.5 890.7C1277.2 893.2 1283.9 895.0 1290.6 896.7C1297.3 898.3 1303.9 899.7 1310.6 900.7C1319.8 902.1 1329.1 902.9 1338.3 903.1"/>
<path d="M1081.6 854.2C1091.1 854.2 1100.6 854.2 1110.1 854.2C1116.8 854.2 1123.5 852.6 1130.2 851.6C1135.6 850.7 1141.1 849.9 1146.6 848.5C1154.5 846.6 1162.4 843.7 1170.3 840.5C1176.9 837.9 1183.6 834.7 1190.3 831.5C1197.0 828.3 1203.7 825.1 1210.4 821.5C1217.0 817.8 1223.7 813.8 1230.4 809.4C1237.1 805.1 1243.8 799.9 1250.5 795.4C1257.2 790.9 1263.8 786.6 1270.5 782.4C1275.9 779.0 1281.2 775.1 1286.6 772.3C1291.2 769.9 1295.9 767.9 1300.6 766.3C1307.3 764.1 1314.0 763.2 1320.7 762.7C1326.5 762.3 1332.4 762.3 1338.3 762.3"/>
<path d="M1338.2 657.0C1349.6 657.2 1360.9 657.4 1372.3 657.6C1382.3 657.9 1392.3 658.3 1402.4 658.6C1412.4 659.0 1422.4 659.7 1432.4 659.7C1438.1 659.7 1443.7 659.7 1449.3 659.7"/>
<path d="M1338.2 676.7C1344.9 676.7 1351.6 676.7 1358.3 676.1C1364.9 675.5 1371.6 673.8 1378.3 672.1C1385.0 670.4 1391.7 667.8 1398.4 666.1C1405.0 664.3 1411.7 662.7 1418.4 661.7C1425.1 660.7 1431.8 660.4 1438.5 660.1C1442.1 659.9 1445.7 659.7 1449.3 659.7"/>
<path d="M1338.2 700.2C1342.9 700.2 1347.6 700.2 1352.2 699.8C1358.9 699.2 1365.6 696.2 1372.3 694.1C1379.0 692.0 1385.7 689.3 1392.3 687.1C1399.0 685.0 1405.7 682.8 1412.4 681.1C1419.1 679.4 1425.8 677.9 1432.4 677.1C1438.1 676.4 1443.7 676.1 1449.3 676.1"/>
<path d="M1338.2 711.8C1346.2 711.3 1354.2 710.9 1362.3 710.6C1368.9 710.4 1375.6 710.2 1382.3 710.2C1389.0 710.2 1395.7 711.5 1402.4 712.2C1409.0 712.9 1415.7 714.0 1422.4 714.6C1431.4 715.4 1440.3 715.8 1449.3 715.8"/>
<path d="M1338.2 729.8C1342.9 729.6 1347.6 729.0 1352.2 728.2C1358.9 727.1 1365.6 724.7 1372.3 723.2C1379.0 721.7 1385.7 720.2 1392.3 719.2C1399.0 718.2 1405.7 717.7 1412.4 717.2C1419.1 716.7 1425.8 716.4 1432.4 716.2C1438.1 716.0 1443.7 715.9 1449.3 715.8"/>
<path d="M1338.2 758.7C1346.2 757.7 1354.2 756.5 1362.3 755.3C1372.3 753.8 1382.3 751.8 1392.3 750.3C1402.4 748.8 1412.4 747.1 1422.4 746.3C1427.8 745.8 1433.1 745.3 1438.5 745.3C1442.1 745.3 1445.7 745.3 1449.3 745.3"/>
<path d="M1338.2 760.7C1342.9 760.7 1347.6 761.2 1352.2 762.7C1356.9 764.2 1361.6 766.9 1366.3 769.7C1371.6 773.0 1377.0 777.8 1382.3 781.8C1389.0 786.8 1395.7 792.1 1402.4 796.8C1409.0 801.5 1415.7 806.2 1422.4 810.0C1427.8 813.1 1433.1 816.1 1438.5 818.1C1442.1 819.4 1445.7 820.4 1449.3 821.1"/>
<path d="M1338.2 762.3C1342.9 762.3 1347.6 762.8 1352.2 764.3C1356.9 765.8 1361.6 768.5 1366.3 771.3C1371.6 774.6 1377.0 779.4 1382.3 783.4C1389.0 788.4 1395.7 793.7 1402.4 798.4C1409.0 803.1 1415.7 807.8 1422.4 811.4C1427.8 814.4 1433.1 817.2 1438.5 819.1C1442.1 820.3 1445.7 821.3 1449.3 821.9"/>
<path d="M1338.2 851.6C1346.2 851.6 1354.2 851.2 1362.3 849.9C1368.9 848.9 1375.6 847.3 1382.3 845.5C1389.0 843.8 1395.7 842.0 1402.4 839.5C1409.0 837.0 1415.7 833.4 1422.4 830.5C1427.8 828.2 1433.1 825.6 1438.5 823.9C1442.1 822.7 1445.7 821.8 1449.3 821.1"/>
<path d="M1338.2 854.2C1346.2 854.2 1354.2 853.8 1362.3 852.6C1368.9 851.5 1375.6 849.9 1382.3 848.1C1389.0 846.3 1395.7 844.3 1402.4 841.7C1409.0 839.1 1415.7 835.6 1422.4 832.5C1427.8 830.0 1433.1 827.0 1438.5 825.1C1442.1 823.8 1445.7 822.7 1449.3 821.9"/>
<path d="M1449.3 650.0C1457.0 650.6 1464.8 651.4 1472.5 652.4C1479.2 653.3 1485.9 654.9 1492.6 655.6C1499.9 656.5 1507.2 656.9 1514.5 657.0"/>
<path d="M1449.3 669.1C1453.7 670.6 1458.1 671.9 1462.5 673.1C1467.9 674.5 1473.2 675.8 1478.6 676.5C1483.2 677.1 1487.9 677.1 1492.6 677.1C1499.9 677.1 1507.2 677.0 1514.5 676.5"/>
<path d="M1449.3 688.1C1453.7 690.5 1458.1 692.9 1462.5 695.1C1467.9 697.9 1473.2 700.9 1478.6 703.2C1483.2 705.1 1487.9 706.9 1492.6 708.2C1499.9 710.2 1507.2 711.4 1514.5 711.8"/>
<path d="M1449.3 701.8C1453.7 701.8 1458.1 701.8 1462.5 701.8C1467.9 701.8 1473.2 699.2 1478.6 699.2C1483.2 699.2 1487.9 699.6 1492.6 699.8C1499.9 700.1 1507.2 700.3 1514.5 700.6"/>
<path d="M1449.3 730.2C1452.4 727.9 1455.4 726.0 1458.5 725.2C1462.5 724.2 1466.5 724.2 1470.5 724.2C1474.6 724.2 1478.6 725.6 1482.6 726.2C1487.9 727.1 1493.3 728.1 1498.6 728.6C1503.9 729.2 1509.2 729.5 1514.5 729.6"/>
<path d="M1449.3 765.3C1453.7 764.2 1458.1 763.2 1462.5 762.3C1467.9 761.2 1473.2 760.0 1478.6 759.3C1483.2 758.7 1487.9 758.3 1492.6 758.3C1499.9 758.3 1507.2 758.3 1514.5 758.3"/>
<path d="M1449.3 779.4C1453.7 778.7 1458.1 777.7 1462.5 776.4C1467.9 774.8 1473.2 772.3 1478.6 770.3C1483.2 768.6 1487.9 766.7 1492.6 765.3C1499.9 763.2 1507.2 761.7 1514.5 760.9"/>
<path d="M1449.3 795.4C1453.7 792.3 1458.1 789.3 1462.5 786.4C1467.9 782.9 1473.2 779.3 1478.6 776.4C1483.2 773.7 1487.9 771.3 1492.6 769.3C1499.9 766.3 1507.2 764.0 1514.5 762.7"/>
<path d="M1449.3 827.5C1453.7 829.9 1458.1 832.2 1462.5 834.5C1467.9 837.3 1473.2 840.3 1478.6 842.5C1483.2 844.5 1487.9 846.1 1492.6 847.5C1499.9 849.7 1507.2 851.3 1514.5 852.2"/>
<path d="M1449.3 856.6C1453.7 857.3 1458.1 858.2 1462.5 858.2C1467.9 858.2 1473.2 858.2 1478.6 858.2C1483.2 858.2 1487.9 857.1 1492.6 856.6C1499.9 855.7 1507.2 854.9 1514.5 854.2"/>
<path d="M1338.33 437.50l0.020 0.000M1338.33 440.83l0.020 0.001M1338.33 441.33l0.020 -0.001M1338.33 467.00l0.019 0.005M1338.22 386.49l0.020 0.000M1449.22 369.97l0.019 0.006M1338.22 397.68l0.020 0.000M1449.22 370.60l0.020 -0.001M1338.22 415.86l0.020 -0.001M1449.22 430.61l0.020 0.000M1338.22 431.63l0.020 0.000M1449.22 371.24l0.019 -0.006M1449.22 364.24l0.018 0.009M1449.22 396.03l0.019 0.007M1449.22 398.57l0.018 0.008M1449.22 432.90l0.020 0.001M1338.30 681.71l0.020 0.001M1338.30 698.15l0.020 0.000M1338.30 721.21l0.020 0.000M1338.30 729.23l0.019 0.005M1338.30 721.81l0.020 0.000M1338.30 744.27l0.020 0.002M1338.30 745.88l0.020 -0.001M1338.30 747.28l0.020 -0.000M1338.30 903.08l0.020 0.000M1338.30 762.32l0.020 0.000M1338.20 657.04l0.020 0.000M1449.29 659.65l0.020 0.000M1338.20 676.70l0.020 0.000M1449.29 659.65l0.020 -0.000M1338.20 700.16l0.020 0.000M1449.29 676.09l0.020 0.000M1338.20 711.79l0.020 -0.001M1449.29 715.80l0.020 0.000M1338.20 729.83l0.020 -0.001M1449.29 715.80l0.020 -0.000M1338.20 758.71l0.020 -0.003M1449.29 745.27l0.020 0.000M1338.20 760.71l0.020 0.000M1449.29 821.07l0.020 0.004M1338.20 762.32l0.020 0.000M1449.29 821.87l0.020 0.003M1338.20 851.55l0.020 0.000M1449.29 821.07l0.020 -0.004M1338.20 854.16l0.020 0.000M1449.29 821.87l0.019 -0.004M1449.29 650.03l0.020 0.001M1449.29 669.08l0.019 0.007M1449.29 688.13l0.018 0.010M1449.29 701.76l0.020 0.000M1449.29 730.23l0.016 -0.012M1449.29 765.33l0.019 -0.005M1449.29 779.36l0.020 -0.003M1449.29 795.40l0.016 -0.012M1449.29 827.49l0.018 0.010M1449.29 856.56l0.020 0.003" stroke-linecap="square"/>
</g>
<g stroke="#0000ff" stroke-width="6.5" fill="none" stroke-linejoin="round" stroke-linecap="round">
<path d="M300.5 436.7C307.0 435.8 313.5 434.1 320.0 431.7C328.3 428.5 336.7 422.5 345.0 418.3C353.3 414.2 361.7 410.0 370.0 406.7C375.6 404.5 381.1 402.4 386.7 400.8C395.0 398.5 403.3 399.9 411.7 396.7C416.1 395.0 420.6 391.9 425.0 390.0C428.1 388.7 431.1 387.6 434.2 386.7"/>
<path d="M690.7 386.7C693.8 387.6 696.9 388.7 699.9 390.0C704.4 391.9 708.9 395.0 713.3 396.7C721.7 399.9 730.1 398.5 738.4 400.8C744.0 402.4 749.6 404.5 755.2 406.7C763.6 410.0 771.9 414.2 780.3 418.3C788.7 422.5 797.0 428.5 805.4 431.7C811.9 434.1 818.5 435.8 825.0 436.7"/>
<path d="M434.2 386.7C437.8 387.3 441.4 388.1 445.0 389.2C448.3 390.1 451.7 392.2 455.0 392.5C460.0 393.0 465.0 393.0 470.0 393.0C478.3 393.0 486.7 392.7 495.0 392.5C501.7 392.3 508.3 392.0 515.0 392.0C519.4 392.0 523.9 395.3 528.3 397.5C532.8 399.7 537.2 403.1 541.7 405.0C547.1 407.4 552.4 409.0 557.8 409.7C560.0 409.9 562.2 410.0 564.3 410.0"/>
<path d="M564.3 410.0C570.6 411.4 576.8 412.6 583.0 413.3C589.7 414.2 596.3 414.7 603.0 414.7C606.3 414.7 609.7 411.8 613.0 410.0C616.9 407.9 620.8 404.5 624.7 402.5C629.1 400.2 633.6 398.9 638.0 397.5C644.7 395.4 651.3 394.5 658.0 393.3C663.6 392.4 669.1 392.3 674.7 390.8C678.0 390.0 681.3 388.2 684.7 387.5C686.7 387.1 688.7 386.8 690.7 386.7"/>
<path d="M825.0 436.7C830.9 436.7 836.8 436.7 842.7 436.7C847.7 436.7 852.7 434.9 857.7 433.3C864.9 431.0 872.1 427.2 879.3 423.3C884.9 420.3 890.4 417.2 896.0 413.3C901.6 409.4 907.1 404.9 912.7 400.0C918.6 394.8 924.4 388.4 930.3 383.0C935.6 378.2 940.8 373.9 946.0 369.2C950.9 364.7 955.9 360.0 960.8 355.7C964.2 352.7 967.6 349.7 971.0 347.0C974.4 344.3 977.8 341.7 981.2 339.3C984.4 337.0 987.7 334.9 991.0 333.0C995.4 330.5 999.9 328.6 1004.3 326.7C1009.9 324.2 1015.4 322.4 1021.0 320.0C1026.6 317.6 1032.1 315.0 1037.7 312.5C1043.2 310.0 1048.8 306.9 1054.3 305.0C1059.9 303.1 1065.4 301.6 1071.0 300.8C1074.6 300.3 1078.1 300.0 1081.7 300.0"/>
<path d="M1081.7 363.0C1085.0 363.0 1088.3 362.9 1091.7 362.5C1097.2 361.9 1102.8 360.3 1108.3 359.2C1113.9 358.1 1119.4 356.5 1125.0 355.8C1128.9 355.3 1132.8 355.0 1136.7 355.0C1140.0 355.0 1143.3 355.1 1146.7 355.3"/>
<path d="M1338.2 363.0C1342.3 362.9 1346.4 362.5 1350.4 361.9C1354.7 361.1 1358.9 359.7 1363.1 358.7C1367.4 357.6 1371.6 356.6 1375.9 355.5C1380.1 354.4 1384.3 353.5 1388.6 352.3C1392.8 351.2 1397.0 349.9 1401.3 348.5C1405.5 347.1 1409.8 345.9 1414.0 344.1C1417.4 342.6 1420.8 340.8 1424.2 339.0C1427.1 337.4 1430.1 335.3 1433.1 333.9C1436.0 332.5 1439.0 331.5 1442.0 330.7C1444.4 330.0 1446.8 329.5 1449.2 329.2"/>
<path d="M1146.67 355.33l0.020 0.002M1338.22 363.00l0.020 -0.000M1449.22 329.18l0.020 -0.003" stroke-linecap="square"/>
</g>
<g stroke="#ff0000" stroke-width="6.5" fill="none" stroke-linejoin="round" stroke-linecap="round">
<path d="M300.5 425.8C307.0 423.3 313.5 420.3 320.0 416.7C328.3 412.0 336.7 406.1 345.0 400.0C353.3 393.9 361.7 389.0 370.0 380.0C373.2 376.5 376.4 372.2 379.7 368.5C383.7 363.9 387.7 359.3 391.7 355.0C396.1 350.2 400.6 345.7 405.0 341.3C410.1 347.2 415.2 352.1 420.3 355.8C423.0 357.8 425.7 359.7 428.3 360.8C430.3 361.7 432.2 362.2 434.2 362.5"/>
<path d="M690.7 362.5C692.7 362.2 694.6 361.7 696.6 360.8C699.3 359.7 702.0 357.8 704.6 355.8C709.8 352.1 714.9 347.2 720.0 341.3C724.5 345.7 729.0 350.2 733.4 355.0C737.4 359.3 741.5 363.9 745.5 368.5C748.7 372.2 752.0 376.5 755.2 380.0C763.6 389.0 771.9 393.9 780.3 400.0C788.7 406.1 797.0 412.0 805.4 416.7C811.9 420.3 818.5 423.3 825.0 425.8"/>
<path d="M434.2 362.5C437.8 362.1 441.4 361.0 445.0 359.2C448.9 357.2 452.8 353.2 456.7 350.8C460.0 348.8 463.3 345.8 466.7 345.8C470.6 345.8 474.4 348.9 478.3 351.7C483.9 355.6 489.4 362.8 495.0 368.3C499.4 372.8 503.9 378.1 508.3 381.7C512.2 384.8 516.1 389.2 520.0 389.2C525.6 389.2 531.1 388.2 536.7 387.5C543.7 386.6 550.8 385.7 557.8 384.2C560.0 383.7 562.2 383.2 564.3 382.7"/>
<path d="M564.3 382.7C567.8 383.3 571.2 383.9 574.7 384.2C580.2 384.7 585.8 384.7 591.3 384.7C596.9 384.7 602.4 383.2 608.0 381.7C612.4 380.4 616.9 379.1 621.3 377.0C624.2 375.6 627.1 374.1 630.0 372.2C635.1 368.7 640.2 363.7 645.3 358.3C647.8 355.7 650.3 352.5 652.8 350.0C655.4 347.4 657.9 345.2 660.5 343.2C665.6 346.4 670.7 350.0 675.8 353.8C678.3 355.7 680.8 358.2 683.3 359.7C685.8 361.1 688.2 362.0 690.7 362.5"/>
<path d="M825.0 425.8C828.1 425.7 831.2 425.2 834.3 424.2C838.2 422.9 842.1 420.4 846.0 418.3C851.6 415.3 857.1 411.7 862.7 408.3C868.2 405.0 873.8 401.5 879.3 398.3C884.9 395.1 890.4 392.6 896.0 389.2C900.7 386.3 905.3 383.1 910.0 379.7C915.9 375.3 921.8 370.1 927.7 365.3C933.7 360.4 939.8 355.5 945.8 350.7C953.1 354.9 960.4 359.0 967.7 363.0C975.1 367.1 982.6 370.6 990.0 375.0C992.0 376.2 994.0 377.4 996.0 378.7C1001.6 382.2 1007.1 386.8 1012.7 390.0C1016.6 392.2 1020.4 394.3 1024.3 395.8C1028.8 397.5 1033.2 398.5 1037.7 399.2C1043.2 400.0 1048.8 400.0 1054.3 400.0C1059.9 400.0 1065.4 398.8 1071.0 398.3C1074.6 398.0 1078.1 397.7 1081.7 397.5"/>
<path d="M1146.7 355.3C1150.6 355.3 1154.4 355.3 1158.3 355.0C1162.8 354.6 1167.2 352.5 1171.7 351.7C1175.6 350.9 1179.4 350.0 1183.3 350.0C1187.2 350.0 1191.1 351.7 1195.0 352.5C1198.9 353.3 1202.8 355.0 1206.7 355.0C1210.0 355.0 1213.3 353.3 1216.7 353.3C1218.9 353.3 1221.1 353.3 1223.3 353.3C1226.7 353.3 1230.0 356.3 1233.3 358.3C1238.9 361.7 1244.4 367.5 1250.0 371.7C1255.6 375.8 1261.1 379.2 1266.7 383.3C1272.2 387.5 1277.8 392.2 1283.3 396.7C1288.9 401.1 1294.4 406.1 1300.0 410.0C1305.6 413.9 1311.1 417.4 1316.7 420.0C1321.1 422.1 1325.6 424.1 1330.0 425.0C1332.8 425.6 1335.6 425.8 1338.3 425.8"/>
<path d="M1449.2 352.8C1453.6 352.5 1458.0 352.5 1462.3 352.5C1466.6 352.5 1470.8 352.7 1475.0 353.4C1479.3 354.2 1483.5 356.0 1487.7 357.3C1492.0 358.5 1496.2 360.1 1500.5 361.1C1505.1 362.1 1509.8 362.7 1514.4 363.0"/>
<path d="M1146.67 355.33l0.020 0.000M1338.33 425.83l0.020 0.000M1449.22 352.80l0.020 -0.001" stroke-linecap="square"/>
</g>
<g stroke="#0000ff" stroke-width="6.5" fill="none" stroke-linejoin="round" stroke-linecap="round">
<path d="M300.5 85.0C308.1 82.6 315.7 80.2 323.3 78.0C330.6 75.9 337.8 73.5 345.0 72.0C352.2 70.5 359.4 69.0 366.7 69.0C371.7 69.0 376.7 70.2 381.7 71.3C385.6 72.2 389.4 72.9 393.3 74.7C396.1 75.9 398.9 77.7 401.7 79.3C404.4 80.9 407.2 82.6 410.0 84.2C413.9 86.4 417.8 88.8 421.7 90.5C423.9 91.5 426.1 92.4 428.3 93.0C430.3 93.5 432.2 93.8 434.2 93.8"/>
<path d="M300.5 85.5C308.1 84.5 315.7 83.2 323.3 81.7C330.6 80.2 337.8 77.0 345.0 76.7C352.0 76.3 359.0 76.3 366.0 76.3C375.1 76.3 384.2 76.8 393.3 77.0C395.9 77.1 398.4 77.2 401.0 77.2C404.8 77.2 408.7 73.3 412.5 73.3C416.3 73.3 420.2 75.3 424.0 75.3C427.4 75.3 430.8 75.3 434.2 74.7"/>
<path d="M393.3 74.2C399.7 71.0 406.1 69.5 412.5 69.5C416.7 69.5 420.8 70.8 425.0 71.7C428.1 72.3 431.1 72.9 434.2 73.7"/>
<path d="M403.3 61.7C407.2 63.3 411.1 64.7 415.0 65.8C421.4 67.7 427.8 68.7 434.2 69.0"/>
<path d="M300.5 90.8C307.0 92.0 313.5 92.5 320.0 92.5C330.0 92.5 340.0 88.3 350.0 88.3C359.4 88.3 368.9 91.6 378.3 93.0C389.4 94.7 400.6 96.4 411.7 97.5C419.2 98.2 426.7 98.8 434.2 99.2"/>
<path d="M300.5 118.0C308.1 116.3 315.7 114.5 323.3 112.5C332.2 110.2 341.1 106.8 350.0 105.0C355.6 103.9 361.1 102.5 366.7 102.5C371.7 102.5 376.7 105.8 381.7 108.3C386.1 110.6 390.6 114.0 395.0 116.7C400.6 120.0 406.1 123.3 411.7 125.8C416.1 127.8 420.6 129.4 425.0 130.8C428.1 131.8 431.1 132.6 434.2 133.3"/>
<path d="M300.5 123.7C308.1 124.6 315.7 126.5 323.3 129.2C330.6 131.7 337.8 136.3 345.0 139.2C350.6 141.4 356.1 143.5 361.7 145.0C366.4 146.2 371.1 147.7 375.8 147.7C382.2 147.7 388.6 146.6 395.0 145.0C400.6 143.6 406.1 140.9 411.7 139.2C419.2 136.8 426.7 134.9 434.2 133.3"/>
<path d="M300.5 175.0C309.8 175.6 319.1 176.5 328.3 177.5C336.7 178.4 345.0 180.0 353.3 180.8C367.2 182.2 381.1 182.5 395.0 182.5C408.1 182.5 421.1 182.5 434.2 182.0"/>
<path d="M300.5 190.0C307.0 189.0 313.5 188.2 320.0 187.5C328.3 186.7 336.7 185.8 345.0 185.8C349.4 185.8 353.9 189.1 358.3 191.7C363.9 194.9 369.4 200.2 375.0 204.2C379.4 207.3 383.9 210.6 388.3 213.3C393.3 216.5 398.3 219.0 403.3 221.7C408.9 224.6 414.4 228.1 420.0 230.0C424.7 231.6 429.4 232.6 434.2 233.0"/>
<path d="M300.5 192.5C307.0 193.2 313.5 194.6 320.0 196.7C326.1 198.6 332.2 202.0 338.3 204.2C346.1 206.9 353.9 208.6 361.7 210.8C368.3 212.8 375.0 213.9 381.7 216.7C386.1 218.5 390.6 220.8 395.0 223.3C400.6 226.5 406.1 230.4 411.7 234.2C416.1 237.1 420.6 241.1 425.0 243.3C428.1 244.8 431.1 246.0 434.2 246.7"/>
<path d="M300.5 235.0C309.8 232.4 319.1 229.9 328.3 227.5C339.4 224.6 350.6 221.4 361.7 219.2C370.0 217.5 378.3 216.4 386.7 215.0C395.0 213.6 403.3 211.8 411.7 210.8C419.2 209.9 426.7 209.4 434.2 209.2"/>
<path d="M300.5 235.8C309.8 234.9 319.1 234.1 328.3 233.3C339.4 232.4 350.6 230.8 361.7 230.8C368.3 230.8 375.0 230.8 381.7 230.8C386.1 230.8 390.6 232.9 395.0 236.7C399.4 240.4 403.9 247.8 408.3 253.3C412.8 258.9 417.2 266.5 421.7 270.0C425.8 273.3 430.0 274.7 434.2 274.7"/>
<path d="M300.5 243.7C307.0 246.6 313.5 250.3 320.0 254.7C325.6 258.4 331.1 263.0 336.7 267.3C342.2 271.6 347.8 276.7 353.3 280.5C357.8 283.5 362.2 287.1 366.7 288.3C371.7 289.7 376.7 289.7 381.7 289.7C386.1 289.7 390.6 288.8 395.0 288.0C400.6 287.0 406.1 285.6 411.7 284.2C415.6 283.1 419.4 282.2 423.3 280.8C426.9 279.6 430.6 278.1 434.2 276.3"/>
<path d="M300.5 243.0C307.0 245.2 313.5 248.4 320.0 252.5C325.6 256.0 331.1 260.6 336.7 265.0C342.2 269.4 347.8 274.8 353.3 279.2C357.8 282.7 362.2 287.7 366.7 289.2C371.7 290.8 376.7 290.8 381.7 290.8C386.1 290.8 390.6 290.5 395.0 290.0C400.6 289.3 406.1 287.7 411.7 286.7C415.6 285.9 419.4 284.5 423.3 284.5C426.9 284.5 430.6 286.1 434.2 288.3"/>
<path d="M300.5 240.0C307.0 240.0 313.5 241.1 320.0 243.3C325.6 245.3 331.1 247.7 336.7 251.7C341.1 254.8 345.6 258.8 350.0 263.3C353.9 267.3 357.8 271.6 361.7 276.7C364.4 280.3 367.2 284.5 370.0 288.3C373.9 293.8 377.9 299.6 381.8 304.7C386.2 310.3 390.6 315.1 395.0 320.2C398.3 324.0 401.7 327.9 405.0 331.7C409.4 326.5 413.9 321.4 418.3 316.3C421.7 312.5 425.0 309.1 428.3 305.0C429.4 303.6 430.6 302.0 431.7 300.8C432.5 300.0 433.3 299.3 434.2 298.7"/>
<path d="M690.7 93.8C692.7 93.8 694.6 93.5 696.6 93.0C698.8 92.4 701.1 91.5 703.3 90.5C707.2 88.8 711.1 86.4 715.0 84.2C717.8 82.6 720.6 80.9 723.4 79.3C726.2 77.7 729.0 75.9 731.8 74.7C735.7 72.9 739.6 72.2 743.5 71.3C748.5 70.2 753.5 69.0 758.5 69.0C765.8 69.0 773.0 70.5 780.3 72.0C787.6 73.5 794.8 75.9 802.1 78.0C809.7 80.2 817.4 82.6 825.0 85.0"/>
<path d="M690.7 74.7C694.1 75.3 697.5 75.3 700.9 75.3C704.8 75.3 708.6 73.3 712.5 73.3C716.3 73.3 720.2 77.2 724.0 77.2C726.6 77.2 729.2 77.1 731.8 77.0C740.9 76.8 750.1 76.3 759.2 76.3C766.2 76.3 773.3 76.3 780.3 76.7C787.6 77.0 794.8 80.2 802.1 81.7C809.7 83.2 817.4 84.5 825.0 85.5"/>
<path d="M690.7 73.7C693.8 72.9 696.9 72.3 699.9 71.7C704.1 70.8 708.3 69.5 712.5 69.5C718.9 69.5 725.3 71.0 731.8 74.2"/>
<path d="M690.7 69.0C697.2 68.7 703.6 67.7 710.0 65.8C713.9 64.7 717.8 63.3 721.7 61.7"/>
<path d="M690.7 99.2C698.3 98.8 705.8 98.2 713.3 97.5C724.5 96.4 735.7 94.7 746.8 93.0C756.3 91.6 765.8 88.3 775.3 88.3C785.3 88.3 795.4 92.5 805.4 92.5C811.9 92.5 818.5 92.0 825.0 90.8"/>
<path d="M690.7 133.3C693.8 132.6 696.9 131.8 699.9 130.8C704.4 129.4 708.9 127.8 713.3 125.8C718.9 123.3 724.5 120.0 730.1 116.7C734.5 114.0 739.0 110.6 743.5 108.3C748.5 105.8 753.5 102.5 758.5 102.5C764.1 102.5 769.7 103.9 775.3 105.0C784.2 106.8 793.1 110.2 802.1 112.5C809.7 114.5 817.4 116.3 825.0 118.0"/>
<path d="M690.7 133.3C698.3 134.9 705.8 136.8 713.3 139.2C718.9 140.9 724.5 143.6 730.1 145.0C736.5 146.6 742.9 147.7 749.3 147.7C754.1 147.7 758.8 146.2 763.6 145.0C769.1 143.5 774.7 141.4 780.3 139.2C787.6 136.3 794.8 131.7 802.1 129.2C809.7 126.5 817.4 124.6 825.0 123.7"/>
<path d="M690.7 182.0C703.8 182.5 717.0 182.5 730.1 182.5C744.0 182.5 758.0 182.2 771.9 180.8C780.3 180.0 788.7 178.4 797.0 177.5C806.4 176.5 815.7 175.6 825.0 175.0"/>
<path d="M690.7 233.0C695.5 232.6 700.2 231.6 705.0 230.0C710.5 228.1 716.1 224.6 721.7 221.7C726.7 219.0 731.8 216.5 736.8 213.3C741.2 210.6 745.7 207.3 750.2 204.2C755.7 200.2 761.3 194.9 766.9 191.7C771.4 189.1 775.8 185.8 780.3 185.8C788.7 185.8 797.0 186.7 805.4 187.5C811.9 188.2 818.5 189.0 825.0 190.0"/>
<path d="M690.7 246.7C693.8 246.0 696.9 244.8 699.9 243.3C704.4 241.1 708.9 237.1 713.3 234.2C718.9 230.4 724.5 226.5 730.1 223.3C734.5 220.8 739.0 218.5 743.5 216.7C750.2 213.9 756.9 212.8 763.6 210.8C771.4 208.6 779.2 206.9 787.0 204.2C793.1 202.0 799.3 198.6 805.4 196.7C811.9 194.6 818.5 193.2 825.0 192.5"/>
<path d="M690.7 209.2C698.3 209.4 705.8 209.9 713.3 210.8C721.7 211.8 730.1 213.6 738.4 215.0C746.8 216.4 755.2 217.5 763.6 219.2C774.7 221.4 785.9 224.6 797.0 227.5C806.4 229.9 815.7 232.4 825.0 235.0"/>
<path d="M690.7 274.7C694.9 274.7 699.1 273.3 703.3 270.0C707.8 266.5 712.2 258.9 716.7 253.3C721.1 247.8 725.6 240.4 730.1 236.7C734.5 232.9 739.0 230.8 743.5 230.8C750.2 230.8 756.9 230.8 763.6 230.8C774.7 230.8 785.9 232.4 797.0 233.3C806.4 234.1 815.7 234.9 825.0 235.8"/>
<path d="M690.7 276.3C694.4 278.1 698.0 279.6 701.6 280.8C705.5 282.2 709.4 283.1 713.3 284.2C718.9 285.6 724.5 287.0 730.1 288.0C734.5 288.8 739.0 289.7 743.5 289.7C748.5 289.7 753.5 289.7 758.5 288.3C763.0 287.1 767.5 283.5 771.9 280.5C777.5 276.7 783.1 271.6 788.7 267.3C794.3 263.0 799.8 258.4 805.4 254.7C811.9 250.3 818.5 246.6 825.0 243.7"/>
<path d="M690.7 288.3C694.4 286.1 698.0 284.5 701.6 284.5C705.5 284.5 709.4 285.9 713.3 286.7C718.9 287.7 724.5 289.3 730.1 290.0C734.5 290.5 739.0 290.8 743.5 290.8C748.5 290.8 753.5 290.8 758.5 289.2C763.0 287.7 767.5 282.7 771.9 279.2C777.5 274.8 783.1 269.4 788.7 265.0C794.3 260.6 799.8 256.0 805.4 252.5C811.9 248.4 818.5 245.2 825.0 243.0"/>
<path d="M690.7 298.7C691.6 299.3 692.4 300.0 693.2 300.8C694.4 302.0 695.5 303.6 696.6 305.0C699.9 309.1 703.3 312.5 706.6 316.3C711.1 321.4 715.6 326.5 720.0 331.7C723.4 327.9 726.7 324.0 730.1 320.2C734.5 315.1 738.9 310.3 743.3 304.7C747.3 299.6 751.2 293.8 755.2 288.3C758.0 284.5 760.8 280.3 763.6 276.7C767.5 271.6 771.4 267.3 775.3 263.3C779.7 258.8 784.2 254.8 788.7 251.7C794.3 247.7 799.8 245.3 805.4 243.3C811.9 241.1 818.5 240.0 825.0 240.0"/>
<path d="M434.2 69.0C436.7 69.2 439.2 69.6 441.7 70.0C444.4 70.5 447.2 71.8 450.0 71.8C453.3 71.8 456.7 70.6 460.0 69.7C463.3 68.7 466.7 67.0 470.0 66.0C473.3 65.0 476.7 64.4 480.0 63.7C483.3 62.9 486.7 62.3 490.0 61.7"/>
<path d="M434.2 74.0C437.8 74.2 441.4 74.5 445.0 74.5C451.7 74.5 458.3 74.5 465.0 74.5C468.3 74.5 471.7 73.5 475.0 72.5C478.3 71.5 481.7 70.1 485.0 68.7C488.3 67.3 491.7 65.7 495.0 64.2C497.2 63.1 499.4 62.1 501.7 61.0"/>
<path d="M434.2 74.0C437.8 74.2 441.4 74.4 445.0 74.5C451.7 74.7 458.3 74.7 465.0 74.7C468.3 74.7 471.7 73.2 475.0 72.7C478.3 72.1 481.7 71.5 485.0 71.5C490.0 71.5 495.0 71.9 500.0 72.0C506.7 72.2 513.3 72.5 520.0 72.5C526.7 72.5 533.3 72.4 540.0 72.0C543.3 71.8 546.7 71.8 550.0 71.3C552.8 71.0 555.6 70.3 558.3 69.8C560.3 69.5 562.3 69.2 564.3 68.8"/>
<path d="M434.2 93.8C435.6 93.8 436.9 93.8 438.3 93.7C440.3 93.5 442.3 93.1 444.3 92.8C447.3 92.4 450.3 91.8 453.3 91.2C456.7 90.4 460.0 89.5 463.3 88.7C467.2 87.7 471.1 86.8 475.0 85.8C478.8 84.9 482.6 83.3 486.3 82.8C492.6 82.0 498.8 82.0 505.0 82.0C510.0 82.0 515.0 82.5 520.0 82.5C523.3 82.5 526.7 80.9 530.0 80.0C535.0 78.6 540.0 76.7 545.0 75.2C548.3 74.1 551.7 72.8 555.0 72.2C558.1 71.6 561.2 71.5 564.3 71.5"/>
<path d="M434.2 99.2C437.8 99.2 441.4 99.5 445.0 100.2C448.3 100.7 451.7 102.0 455.0 102.7C458.3 103.3 461.7 104.2 465.0 104.2C468.3 104.2 471.7 103.7 475.0 103.2C480.0 102.3 485.0 100.6 490.0 99.2C496.7 97.3 503.3 94.1 510.0 93.2C513.3 92.7 516.7 92.7 520.0 92.7C526.7 92.7 533.3 93.7 540.0 93.7C546.7 93.7 553.3 92.6 560.0 91.7C561.4 91.5 562.9 91.2 564.3 91.0"/>
<path d="M434.2 133.3C437.8 132.1 441.4 130.9 445.0 129.7C450.0 128.0 455.0 125.8 460.0 124.7C465.0 123.5 470.0 123.3 475.0 122.7C481.7 121.8 488.3 121.8 495.0 120.2C500.0 118.9 505.0 116.8 510.0 115.2C516.7 113.0 523.3 111.0 530.0 109.2C536.7 107.3 543.3 105.7 550.0 104.2C554.8 103.1 559.6 102.1 564.3 101.2"/>
<path d="M434.2 133.3C439.4 135.4 444.7 137.4 450.0 139.2C456.7 141.4 463.3 143.3 470.0 145.2C478.3 147.5 486.7 148.9 495.0 151.7C500.0 153.3 505.0 155.5 510.0 157.2C513.3 158.3 516.7 159.0 520.0 160.2C523.3 161.4 526.7 162.9 530.0 164.3C535.0 166.5 540.0 168.8 545.0 171.3C550.0 173.8 555.0 176.8 560.0 179.3C561.4 180.1 562.9 180.8 564.3 181.5"/>
<path d="M434.2 182.0C439.4 182.4 444.7 182.8 450.0 182.8C457.3 182.8 464.7 182.8 472.0 182.8C476.3 182.8 480.7 181.9 485.0 180.3C490.0 178.6 495.0 175.5 500.0 172.3C503.3 170.2 506.7 167.5 510.0 165.3C513.3 163.2 516.7 161.2 520.0 159.3C523.3 157.5 526.7 155.9 530.0 154.3C533.3 152.8 536.7 151.3 540.0 150.2C543.3 149.1 546.7 148.2 550.0 147.7C553.3 147.2 556.7 147.2 560.0 147.2C561.4 147.2 562.9 147.3 564.3 147.5"/>
<path d="M434.2 233.0C438.9 232.4 443.6 231.2 448.3 229.2C452.8 227.3 457.2 224.2 461.7 221.7C465.0 219.8 468.3 217.5 471.7 215.8C476.1 213.6 480.6 211.6 485.0 210.3C491.7 208.4 498.3 209.6 505.0 208.0C511.7 206.4 518.3 202.6 525.0 201.0C531.7 199.4 538.3 199.0 545.0 198.5C551.4 198.0 557.9 197.8 564.3 197.8"/>
<path d="M434.2 209.2C440.6 209.2 446.9 209.3 453.3 210.0C458.9 210.6 464.4 211.1 470.0 213.0C473.3 214.2 476.7 216.3 480.0 217.5C482.8 218.5 485.6 219.7 488.3 219.7C490.6 219.7 492.8 219.7 495.0 219.2C498.3 218.4 501.7 215.6 505.0 214.2C508.3 212.7 511.7 211.4 515.0 210.5C520.1 209.2 525.1 209.4 530.2 209.0C535.1 208.6 540.1 208.0 545.0 208.0C548.4 208.0 551.8 208.5 555.2 209.0C558.2 209.5 561.3 210.2 564.3 211.0"/>
<path d="M434.2 246.7C437.8 246.2 441.4 245.7 445.0 245.0C453.3 243.4 461.7 242.3 470.0 238.3C475.0 235.9 480.0 229.5 485.0 229.2C487.7 229.0 490.3 229.0 493.0 229.0C497.0 229.0 501.0 232.6 505.0 234.2C510.0 236.2 515.0 239.7 520.0 239.7C523.4 239.7 526.8 237.9 530.2 236.3C533.5 234.8 536.8 231.9 540.2 230.2C545.2 227.5 550.2 225.8 555.2 224.2C558.2 223.2 561.3 222.4 564.3 221.7"/>
<path d="M434.2 274.7C438.9 273.1 443.6 270.4 448.3 266.7C452.8 263.2 457.2 256.8 461.7 253.3C466.1 249.9 470.6 246.7 475.0 245.8C478.3 245.2 481.7 245.2 485.0 245.2C488.3 245.2 491.7 245.5 495.0 246.2C499.7 247.1 504.3 251.2 509.0 251.2C512.7 251.2 516.3 247.0 520.0 247.0C523.4 247.0 526.8 248.3 530.2 248.3C532.5 248.3 534.8 247.3 537.2 246.2C540.5 244.6 543.8 241.5 547.2 239.2C550.5 236.8 553.8 233.5 557.2 232.2C559.6 231.2 561.9 230.7 564.3 230.7"/>
<path d="M434.2 276.3C440.6 277.4 446.9 278.4 453.3 279.2C458.9 279.8 464.4 280.8 470.0 280.8C473.3 280.8 476.7 279.8 480.0 278.0C481.7 277.1 483.3 275.7 485.0 274.7C488.3 272.7 491.7 271.9 495.0 270.2C498.3 268.4 501.7 265.3 505.0 264.3C507.0 263.8 509.0 263.7 511.0 263.7C514.0 263.7 517.0 266.0 520.0 267.2C523.4 268.5 526.8 269.6 530.2 271.2C535.2 273.4 540.2 276.8 545.2 279.2C548.5 280.7 551.8 282.4 555.2 283.3C558.2 284.2 561.3 284.7 564.3 284.8"/>
<path d="M434.2 288.3C437.8 286.2 441.4 284.5 445.0 284.5C450.6 284.5 456.1 287.2 461.7 288.3C466.7 289.3 471.7 291.0 476.7 291.0C479.4 291.0 482.2 291.0 485.0 290.3C488.3 289.6 491.7 288.2 495.0 286.3C498.3 284.5 501.7 281.7 505.0 279.2C508.3 276.6 511.7 273.9 515.0 271.2C517.7 268.9 520.4 265.8 523.2 264.2C526.2 262.3 529.2 261.2 532.2 261.2C535.2 261.2 538.2 263.3 541.2 265.2C544.2 267.0 547.2 269.7 550.2 272.2C552.5 274.1 554.8 276.2 557.2 278.3C559.6 280.5 561.9 282.6 564.3 284.8"/>
<path d="M434.2 298.7C436.7 299.7 439.2 301.3 441.7 303.3C445.6 306.5 449.4 312.3 453.3 316.7C456.7 320.4 460.0 325.3 463.3 327.5C465.6 329.0 467.8 330.0 470.0 330.0C472.8 330.0 475.6 328.5 478.3 327.5C483.9 325.6 489.4 322.9 495.0 320.0C498.3 318.3 501.7 316.0 505.0 314.3C511.7 311.0 518.4 310.1 525.2 307.3C530.2 305.3 535.2 303.1 540.2 300.3C544.5 298.0 548.8 295.1 553.2 292.3C556.9 289.9 560.6 287.4 564.3 284.8"/>
<path d="M564.3 69.3C566.9 68.5 569.4 68.0 572.0 68.0C576.3 68.0 580.7 69.9 585.0 70.5C590.1 71.3 595.1 72.0 600.2 72.0C606.8 72.0 613.5 71.5 620.2 71.5C626.8 71.5 633.5 72.8 640.2 73.5C645.2 74.0 650.2 74.5 655.2 75.0C659.6 75.5 663.9 76.5 668.3 76.5C672.3 76.5 676.3 75.9 680.3 75.5C683.8 75.2 687.2 74.9 690.7 74.5"/>
<path d="M564.3 73.0C566.9 74.0 569.4 74.9 572.0 75.5C576.3 76.6 580.7 77.0 585.0 77.0C590.1 77.0 595.1 76.8 600.2 76.5C605.2 76.3 610.2 75.5 615.2 75.5C620.2 75.5 625.2 76.8 630.2 78.0C635.2 79.2 640.2 80.8 645.2 82.5C650.2 84.2 655.2 86.4 660.2 88.0C665.2 89.6 670.3 91.1 675.3 92.0C680.4 93.0 685.6 93.5 690.7 93.7"/>
<path d="M645.2 62.5C650.2 63.1 655.2 63.8 660.2 64.5C665.2 65.3 670.3 66.4 675.3 67.0C680.4 67.6 685.6 67.9 690.7 68.0"/>
<path d="M564.3 91.0C567.9 90.6 571.4 90.2 575.0 90.2C580.0 90.2 585.0 90.2 590.0 90.2C593.4 90.2 596.8 92.0 600.2 93.2C603.5 94.3 606.8 95.3 610.2 97.2C613.5 99.0 616.8 101.7 620.2 104.2C623.5 106.6 626.8 109.2 630.2 111.7C633.5 114.2 636.8 116.9 640.2 119.2C643.5 121.4 646.8 123.5 650.2 125.2C653.5 126.8 656.8 128.1 660.2 129.2C663.6 130.2 666.9 130.8 670.3 131.3C677.1 132.5 683.9 133.0 690.7 133.0"/>
<path d="M564.3 101.2C567.9 101.0 571.4 100.7 575.0 100.2C580.0 99.5 585.0 98.3 590.0 97.2C594.1 96.3 598.1 95.1 602.2 94.2C606.5 93.2 610.8 92.3 615.2 91.7C620.2 90.9 625.2 90.2 630.2 90.2C633.5 90.2 636.8 90.3 640.2 90.7C645.2 91.3 650.2 93.1 655.2 94.2C660.2 95.3 665.3 96.4 670.3 97.2C673.7 97.7 677.0 98.0 680.3 98.3C683.8 98.6 687.2 98.9 690.7 99.0"/>
<path d="M564.3 147.5C567.9 147.6 571.4 148.3 575.0 149.7C578.3 151.0 581.7 153.2 585.0 155.3C588.3 157.4 591.7 160.2 595.0 162.3C598.4 164.5 601.8 167.2 605.2 168.3C607.8 169.2 610.5 169.3 613.2 169.3C617.2 169.3 621.2 167.8 625.2 166.3C630.2 164.5 635.2 161.4 640.2 158.3C645.2 155.3 650.2 151.5 655.2 148.2C660.2 144.8 665.3 140.7 670.3 138.2C673.7 136.5 677.0 135.0 680.3 134.2C683.8 133.3 687.2 133.0 690.7 133.0"/>
<path d="M564.3 182.0C567.2 183.1 570.1 184.2 573.0 184.2C578.0 184.2 583.0 183.0 588.0 182.0C594.7 180.6 601.3 176.3 608.0 176.3C611.3 176.3 614.7 178.6 618.0 180.0C622.4 181.8 626.9 185.0 631.3 186.3C635.3 187.5 639.2 188.2 643.2 188.2C648.2 188.2 653.2 186.7 658.2 186.0C664.9 185.0 671.6 183.7 678.3 183.0C682.4 182.6 686.6 182.2 690.7 182.0"/>
<path d="M564.3 197.8C567.2 197.8 570.1 197.9 573.0 198.0C578.0 198.2 583.0 198.3 588.0 199.0C592.1 199.6 596.1 200.3 600.2 201.5C604.5 202.8 608.8 204.8 613.2 206.5C616.5 207.8 619.8 209.4 623.2 210.5C626.5 211.6 629.8 212.8 633.2 212.8C638.2 212.8 643.2 212.0 648.2 211.5C653.2 211.0 658.3 210.3 663.3 210.0C668.3 209.7 673.3 209.6 678.3 209.5C682.4 209.4 686.6 209.3 690.7 209.2"/>
<path d="M564.3 211.0C567.2 211.0 570.1 211.3 573.0 212.0C576.3 212.9 579.7 214.6 583.0 216.2C585.7 217.4 588.3 218.4 591.0 220.2C593.1 221.5 595.1 223.2 597.2 225.0C599.2 226.7 601.2 229.3 603.2 230.7C605.5 232.2 607.8 233.2 610.2 233.2C613.5 233.2 616.8 231.9 620.2 231.2C624.5 230.2 628.8 228.0 633.2 228.0C636.5 228.0 639.8 228.6 643.2 229.2C646.5 229.8 649.8 231.1 653.2 231.7C658.2 232.6 663.3 232.4 668.3 232.7C675.8 233.0 683.2 233.0 690.7 233.0"/>
<path d="M564.3 221.7C567.2 221.4 570.1 221.2 573.0 221.2C578.0 221.2 583.0 221.7 588.0 221.7C594.7 221.7 601.3 221.4 608.0 221.3C616.4 221.2 624.8 221.2 633.2 221.2C638.2 221.2 643.2 222.1 648.2 224.2C651.5 225.5 654.8 227.6 658.2 229.7C661.6 231.8 664.9 234.5 668.3 236.7C671.7 238.8 675.0 241.0 678.3 242.7C681.0 244.0 683.7 245.3 686.3 246.0C687.8 246.4 689.2 246.6 690.7 246.7"/>
<path d="M564.3 230.7C567.2 231.1 570.1 231.9 573.0 233.2C576.3 234.6 579.7 237.1 583.0 239.2C586.3 241.2 589.7 243.9 593.0 245.7C595.7 247.1 598.4 248.6 601.2 249.2C602.8 249.5 604.5 249.7 606.2 249.7C608.8 249.7 611.5 248.6 614.2 247.7C618.2 246.3 622.2 243.8 626.2 242.2C629.5 240.8 632.8 238.7 636.2 238.7C637.8 238.7 639.5 238.7 641.2 238.7C643.5 238.7 645.8 239.8 648.2 241.2C651.5 243.1 654.8 247.0 658.2 250.2C661.6 253.4 664.9 256.9 668.3 260.2C671.7 263.4 675.0 267.1 678.3 269.7C680.4 271.3 682.6 272.8 684.7 273.7C686.7 274.5 688.7 274.7 690.7 274.7"/>
<path d="M564.3 284.8C567.2 282.8 570.1 280.6 573.0 278.3C576.3 275.7 579.7 272.8 583.0 270.2C586.3 267.6 589.7 264.5 593.0 262.7C595.4 261.3 597.8 260.1 600.2 259.7C602.2 259.3 604.2 259.3 606.2 259.3C608.8 259.3 611.5 259.3 614.2 259.7C617.2 260.0 620.2 262.5 623.2 264.2C626.5 266.0 629.8 268.3 633.2 270.2C636.5 272.0 639.8 273.7 643.2 275.2C646.5 276.6 649.8 278.0 653.2 278.7C658.2 279.7 663.3 279.7 668.3 279.7C671.7 279.7 675.0 279.6 678.3 279.2C682.4 278.6 686.6 277.7 690.7 276.3"/>
<path d="M564.3 284.8C567.2 283.4 570.1 281.8 573.0 279.8C576.3 277.6 579.7 274.6 583.0 272.2C586.3 269.7 589.7 266.8 593.0 265.2C595.4 264.0 597.8 262.7 600.2 262.7C602.2 262.7 604.2 262.7 606.2 263.2C608.5 263.7 610.8 266.3 613.2 268.2C616.5 270.8 619.8 274.4 623.2 277.2C626.5 279.9 629.8 282.9 633.2 284.8C636.5 286.8 639.8 288.3 643.2 288.8C646.5 289.3 649.8 289.3 653.2 289.3C656.6 289.3 659.9 288.1 663.3 287.3C666.7 286.6 670.0 284.8 673.3 284.8C675.0 284.8 676.7 285.0 678.3 285.3C680.3 285.8 682.3 287.0 684.3 287.5C686.4 288.0 688.6 288.3 690.7 288.3"/>
<path d="M564.3 284.8C567.2 286.1 570.1 287.6 573.0 289.3C576.3 291.3 579.7 294.2 583.0 296.3C588.0 299.5 593.0 302.2 598.0 304.3C603.0 306.5 608.0 307.7 613.0 309.3C618.7 311.2 624.3 312.7 630.0 314.8C633.8 316.3 637.7 317.4 641.5 319.5C645.3 321.5 649.1 324.7 652.8 327.2C655.2 328.7 657.5 330.2 659.8 331.7C662.1 330.4 664.4 328.6 666.7 326.3C669.7 323.3 672.8 318.8 675.8 314.8C678.3 311.6 680.8 307.7 683.3 305.0C684.9 303.3 686.4 301.9 688.0 300.7C688.9 299.9 689.8 299.3 690.7 298.7"/>
<path d="M937.7 60.0C939.3 61.1 940.9 62.1 942.5 63.0C946.7 65.4 950.8 67.2 955.0 69.0C960.1 71.2 965.1 73.4 970.2 75.0C974.2 76.3 978.2 78.0 982.2 78.0C984.8 78.0 987.5 78.0 990.2 77.5C992.2 77.1 994.2 74.5 996.2 74.5C998.2 74.5 1000.2 75.8 1002.2 76.5C1004.8 77.4 1007.5 79.0 1010.2 79.5C1015.2 80.5 1020.2 80.5 1025.2 80.5C1030.2 80.5 1035.3 79.5 1040.3 78.5C1045.3 77.5 1050.3 75.9 1055.3 74.5C1060.3 73.1 1065.3 71.3 1070.3 70.0C1074.1 69.0 1077.9 68.2 1081.7 67.5"/>
<path d="M825.0 84.7C830.0 82.1 835.0 80.0 840.0 78.3C846.7 76.0 853.4 74.7 860.2 73.7C866.8 72.6 873.5 72.9 880.2 72.2C886.8 71.4 893.5 69.3 900.2 69.3C903.5 69.3 906.8 70.0 910.2 71.2C913.6 72.3 916.9 74.0 920.3 76.2C923.7 78.3 927.0 81.6 930.3 84.2C933.7 86.7 937.0 89.3 940.3 91.3C943.6 93.3 946.8 96.0 950.0 96.0C953.3 96.0 956.7 95.9 960.0 95.2C964.1 94.2 968.1 92.3 972.2 90.2C975.5 88.4 978.8 86.1 982.2 84.0C984.8 82.3 987.5 80.5 990.2 79.0C992.2 77.9 994.2 75.8 996.2 75.8C998.8 75.8 1001.5 78.5 1004.2 81.0C1006.2 82.9 1008.2 85.5 1010.2 88.0C1012.2 90.5 1014.2 93.7 1016.2 96.2C1019.2 99.8 1022.2 102.7 1025.2 105.2C1028.6 107.9 1031.9 109.8 1035.3 111.2C1038.7 112.5 1042.0 113.2 1045.3 113.2C1048.7 113.2 1052.0 111.7 1055.3 110.2C1058.7 108.7 1062.0 106.0 1065.3 104.2C1068.7 102.3 1072.0 100.5 1075.3 99.2C1077.4 98.3 1079.6 97.7 1081.7 97.2"/>
<path d="M825.0 87.0C830.0 88.4 835.0 89.0 840.0 89.0C843.3 89.0 846.7 88.7 850.0 88.0C853.4 87.3 856.8 85.8 860.2 85.0C863.5 84.3 866.8 83.5 870.2 83.5C872.2 83.5 874.2 84.3 876.2 85.0C879.2 86.1 882.2 88.1 885.2 90.0C888.5 92.1 891.8 95.1 895.2 97.2C898.5 99.2 901.8 100.7 905.2 102.2C908.5 103.7 911.8 105.0 915.2 106.2C918.6 107.3 921.9 108.2 925.3 109.2C928.7 110.2 932.0 111.2 935.3 112.2C938.7 113.1 942.0 114.0 945.3 114.7C948.6 115.3 951.8 116.2 955.0 116.2C958.4 116.2 961.8 114.7 965.2 112.2C967.8 110.2 970.5 107.0 973.2 104.2C975.5 101.7 977.8 98.4 980.2 96.2C982.2 94.2 984.2 92.3 986.2 91.2C988.8 89.7 991.5 89.7 994.2 89.7C997.5 89.7 1000.8 90.7 1004.2 91.2C1007.8 91.7 1011.5 92.3 1015.2 92.7C1020.2 93.2 1025.3 93.7 1030.3 93.7C1035.3 93.7 1040.3 93.5 1045.3 92.7C1048.7 92.1 1052.0 91.6 1055.3 90.2C1058.7 88.7 1062.0 86.2 1065.3 84.0C1068.7 81.8 1072.0 78.5 1075.3 77.0C1077.4 76.0 1079.6 75.4 1081.7 75.0"/>
<path d="M825.0 90.0C830.0 90.0 835.0 90.0 840.0 90.0C844.8 90.0 849.6 88.7 854.3 87.7C858.2 86.8 862.1 84.7 866.0 84.7C868.7 84.7 871.4 84.7 874.2 86.0C876.7 87.2 879.3 89.8 881.8 92.0C884.6 94.4 887.4 97.0 890.2 99.7C893.5 102.9 896.8 106.6 900.2 109.7C903.5 112.7 906.8 115.5 910.2 118.2C913.6 120.9 916.9 123.2 920.3 125.7C923.7 128.1 927.0 130.3 930.3 132.7C933.7 135.0 937.0 137.3 940.3 139.7C943.7 142.0 947.0 144.3 950.3 146.7C953.7 149.0 957.0 151.5 960.3 153.7C963.7 155.9 967.0 158.2 970.3 159.8C972.9 161.1 975.6 162.3 978.2 163.0C979.5 163.4 980.8 163.6 982.2 163.8C984.8 164.3 987.5 164.8 990.2 164.8C992.8 164.8 995.5 163.9 998.2 162.3C1000.5 160.9 1002.8 158.6 1005.2 156.3C1008.5 153.1 1011.8 148.9 1015.2 145.2C1018.5 141.5 1021.8 137.6 1025.2 134.2C1028.6 130.6 1031.9 127.2 1035.3 124.2C1038.7 121.2 1042.0 118.7 1045.3 116.2C1048.7 113.7 1052.0 111.5 1055.3 109.2C1058.7 106.8 1062.0 104.2 1065.3 102.2C1068.7 100.2 1072.0 98.5 1075.3 97.2C1077.4 96.3 1079.6 95.7 1081.7 95.2"/>
<path d="M825.0 117.7C831.7 116.4 838.3 114.9 845.0 113.2C850.1 111.8 855.1 109.7 860.2 108.7C864.5 107.8 868.8 107.2 873.2 107.2C877.2 107.2 881.2 107.7 885.2 109.2C888.5 110.4 891.8 112.7 895.2 114.7C898.5 116.6 901.8 118.2 905.2 120.7C908.5 123.1 911.8 126.4 915.2 129.3C918.6 132.4 921.9 135.6 925.3 138.7C927.0 140.2 928.7 141.6 930.3 143.2C933.7 146.3 937.0 150.0 940.3 153.7C943.7 157.4 947.0 161.6 950.3 165.3C953.7 169.1 957.0 172.8 960.3 176.3C963.7 179.9 967.0 184.6 970.3 186.7C970.9 187.0 971.6 187.3 972.2 187.7C974.8 189.1 977.5 190.9 980.2 192.2C982.8 193.4 985.5 194.3 988.2 195.2C990.8 196.0 993.5 197.2 996.2 197.2C997.5 197.2 998.8 197.2 1000.2 197.2C1001.8 197.2 1003.5 195.5 1005.2 194.2C1006.8 192.8 1008.5 190.9 1010.2 189.2C1013.5 185.7 1016.8 181.8 1020.2 178.2C1023.6 174.5 1026.9 170.7 1030.3 167.2C1033.7 163.7 1037.0 160.0 1040.3 157.0C1043.7 154.0 1047.0 151.3 1050.3 149.0C1053.7 146.7 1057.0 144.8 1060.3 143.0C1063.7 141.2 1067.0 139.3 1070.3 138.0C1074.1 136.5 1077.9 135.5 1081.7 135.0"/>
<path d="M825.0 123.7C830.9 123.8 836.8 124.8 842.7 126.7C849.3 128.8 856.0 132.8 862.7 136.7C871.0 141.5 879.3 148.2 887.7 153.3C894.3 157.5 901.0 161.2 907.7 165.0C915.1 169.2 922.6 174.0 930.0 177.2C932.7 178.3 935.3 179.1 938.0 180.2C940.3 181.1 942.7 182.1 945.0 183.2C948.3 184.7 951.7 186.5 955.0 188.2C958.4 189.8 961.8 191.5 965.2 193.2C968.5 194.8 971.8 196.7 975.2 198.2C978.5 199.7 981.8 201.1 985.2 202.2C987.5 202.9 989.8 204.2 992.2 204.2C994.8 204.2 997.5 202.8 1000.2 202.2C1003.5 201.4 1006.8 200.2 1010.2 200.2C1013.5 200.2 1016.8 200.3 1020.2 201.2C1023.6 202.0 1026.9 203.6 1030.3 205.2C1033.0 206.4 1035.7 207.7 1038.3 209.2C1040.7 210.4 1043.0 211.8 1045.3 213.2C1048.7 215.1 1052.0 217.2 1055.3 219.2C1058.7 221.2 1062.0 223.2 1065.3 225.2C1068.7 227.2 1072.0 229.7 1075.3 231.2C1077.4 232.1 1079.6 232.8 1081.7 233.3"/>
<path d="M825.0 175.0C830.9 175.2 836.8 175.8 842.7 176.7C849.3 177.7 856.0 179.4 862.7 180.8C871.0 182.7 879.3 186.7 887.7 186.7C893.2 186.7 898.8 186.2 904.3 185.8C909.9 185.4 915.4 185.4 921.0 184.2C924.0 183.5 927.0 183.3 930.0 181.7C933.3 179.8 936.7 175.9 940.0 173.2C943.3 170.4 946.7 167.0 950.0 165.2C952.7 163.7 955.3 162.2 958.0 162.2C960.4 162.2 962.8 162.2 965.2 162.2C967.8 162.2 970.5 164.6 973.2 166.2C977.2 168.6 981.2 172.3 985.2 175.2C988.5 177.6 991.8 179.8 995.2 182.2C998.5 184.5 1001.8 187.3 1005.2 189.2C1008.5 191.0 1011.8 192.3 1015.2 193.2C1018.5 194.0 1021.8 194.2 1025.2 194.2C1028.6 194.2 1031.9 193.0 1035.3 192.2C1040.3 190.9 1045.3 188.7 1050.3 187.2C1055.3 185.7 1060.3 184.1 1065.3 183.2C1068.7 182.5 1072.0 181.7 1075.3 181.7C1077.4 181.7 1079.6 181.7 1081.7 181.7"/>
<path d="M825.0 190.3C830.9 191.7 836.8 192.7 842.7 193.3C849.3 194.1 856.0 194.2 862.7 194.2C871.0 194.2 879.3 193.3 887.7 193.3C891.6 193.3 895.4 196.7 899.3 198.3C903.8 200.3 908.2 204.2 912.7 204.2C916.6 204.2 920.4 202.5 924.3 201.7C928.2 200.8 932.1 199.2 936.0 199.2C939.0 199.2 942.0 200.4 945.0 201.2C948.3 202.0 951.7 203.4 955.0 204.2C956.7 204.6 958.3 205.2 960.0 205.2C962.4 205.2 964.8 204.2 967.2 203.2C969.8 202.0 972.5 200.1 975.2 198.2C978.8 195.6 982.5 192.3 986.2 189.2C989.2 186.6 992.2 183.6 995.2 181.2C998.5 178.5 1001.8 176.5 1005.2 174.2C1008.8 171.6 1012.5 169.4 1016.2 166.7C1020.9 163.2 1025.6 159.1 1030.3 155.0C1033.7 152.1 1037.0 148.9 1040.3 146.0C1043.7 143.1 1047.0 139.9 1050.3 137.5C1052.8 135.8 1055.2 134.0 1057.7 133.0C1060.2 131.9 1062.8 131.3 1065.3 131.3C1068.3 131.3 1071.3 131.9 1074.3 132.5C1076.8 132.9 1079.2 133.5 1081.7 134.2"/>
<path d="M825.0 193.0C830.9 194.9 836.8 196.7 842.7 198.3C849.3 200.2 856.0 202.0 862.7 203.3C871.0 205.0 879.3 204.7 887.7 206.7C893.2 208.0 898.8 209.6 904.3 211.7C909.9 213.8 915.4 217.9 921.0 219.2C924.0 219.9 927.0 219.2 930.0 220.2C933.3 221.3 936.7 224.7 940.0 226.2C943.3 227.7 946.7 228.3 950.0 229.2C953.3 230.0 956.7 230.5 960.0 231.2C962.4 231.7 964.8 232.1 967.2 232.7C969.8 233.4 972.5 234.0 975.2 235.2C977.5 236.2 979.8 237.9 982.2 239.2C984.8 240.6 987.5 242.1 990.2 243.2C992.5 244.1 994.8 245.2 997.2 245.2C999.8 245.2 1002.5 244.5 1005.2 244.2C1007.5 243.9 1009.8 243.2 1012.2 243.2C1014.8 243.2 1017.5 244.4 1020.2 245.2C1023.6 246.1 1026.9 247.2 1030.3 248.2C1033.7 249.2 1037.0 250.4 1040.3 251.2C1043.7 251.9 1047.0 252.7 1050.3 252.7C1053.7 252.7 1057.0 251.9 1060.3 251.2C1063.7 250.4 1067.0 249.0 1070.3 248.2C1074.1 247.3 1077.9 246.7 1081.7 246.3"/>
<path d="M825.0 235.8C830.9 236.3 836.8 236.9 842.7 237.5C849.3 238.2 856.0 239.4 862.7 240.0C871.0 240.7 879.3 240.6 887.7 240.8C896.0 241.1 904.3 240.8 912.7 241.7C918.4 242.2 924.2 244.2 930.0 244.2C933.3 244.2 936.7 243.8 940.0 243.2C943.3 242.5 946.7 241.3 950.0 240.2C953.3 239.0 956.7 237.7 960.0 236.2C962.7 234.9 965.4 233.6 968.2 232.2C970.5 230.9 972.8 229.5 975.2 228.2C977.5 226.8 979.8 225.3 982.2 224.2C984.2 223.2 986.2 222.2 988.2 221.7C990.5 221.0 992.8 220.7 995.2 220.7C997.5 220.7 999.8 221.6 1002.2 222.2C1004.8 222.8 1007.5 224.2 1010.2 224.2C1012.8 224.2 1015.5 223.3 1018.2 222.2C1020.5 221.2 1022.8 219.5 1025.2 218.2C1027.6 216.8 1029.9 215.4 1032.3 214.2C1034.3 213.1 1036.3 212.0 1038.3 211.2C1040.7 210.2 1043.0 209.8 1045.3 209.2C1048.7 208.3 1052.0 207.2 1055.3 207.2C1060.3 207.2 1065.3 208.2 1070.3 208.7C1074.1 209.0 1077.9 209.4 1081.7 209.7"/>
<path d="M825.0 235.0C830.9 231.6 836.8 228.8 842.7 226.7C849.3 224.2 856.0 221.7 862.7 221.7C868.2 221.7 873.8 223.3 879.3 225.0C884.9 226.7 890.4 229.7 896.0 231.7C901.6 233.6 907.1 234.1 912.7 236.7C916.6 238.5 920.4 240.3 924.3 243.3C926.2 244.8 928.1 246.9 930.0 248.3C933.3 250.8 936.7 251.9 940.0 253.3C945.0 255.5 950.0 257.0 955.0 258.3C960.1 259.7 965.1 261.3 970.2 261.3C973.5 261.3 976.8 260.8 980.2 260.3C983.5 259.8 986.8 258.9 990.2 258.3C992.5 257.9 994.8 257.3 997.2 257.3C999.8 257.3 1002.5 258.4 1005.2 259.3C1008.5 260.5 1011.8 262.3 1015.2 264.0C1018.8 265.8 1022.4 268.3 1026.0 270.0C1029.9 271.8 1033.8 273.1 1037.7 274.2C1042.1 275.4 1046.6 276.0 1051.0 276.7C1054.9 277.2 1058.8 277.7 1062.7 277.8C1069.0 278.0 1075.3 278.0 1081.7 278.0"/>
<path d="M825.0 240.0C830.9 240.9 836.8 242.1 842.7 243.3C849.3 244.8 856.0 246.7 862.7 248.3C868.2 249.7 873.8 251.4 879.3 252.5C887.7 254.2 896.0 255.0 904.3 255.8C911.0 256.5 917.7 255.8 924.3 257.5C927.7 258.3 931.0 261.0 934.3 263.3C938.2 266.1 942.1 270.4 946.0 273.3C948.8 275.5 951.6 277.6 954.3 279.2C959.9 282.3 965.4 282.6 971.0 284.2C976.6 285.7 982.1 287.6 987.7 288.3C990.4 288.7 993.2 288.8 996.0 288.8C998.8 288.8 1001.6 287.6 1004.3 286.7C1009.9 284.8 1015.4 280.9 1021.0 278.3C1025.4 276.3 1029.9 273.8 1034.3 272.5C1039.9 270.9 1045.4 270.8 1051.0 270.8C1054.9 270.8 1058.8 272.0 1062.7 272.5C1069.0 273.3 1075.3 273.8 1081.7 274.2"/>
<path d="M987.7 60.0C990.5 62.0 993.3 63.0 996.2 63.0C998.9 63.0 1001.6 62.0 1004.3 60.0"/>
<path d="M825.0 242.5C829.2 244.5 833.4 247.0 837.7 250.0C843.2 254.0 848.8 259.9 854.3 264.7C862.7 271.9 871.0 278.7 879.3 285.8C884.9 290.6 890.4 295.5 896.0 300.3C901.7 305.2 907.3 310.0 913.0 315.0C918.4 319.8 923.9 324.8 929.3 329.7C934.4 334.3 939.6 338.9 944.7 343.5C949.6 338.4 954.4 333.5 959.3 328.7C964.1 324.0 968.8 318.9 973.5 315.0C978.2 311.1 982.9 308.6 987.7 305.3C991.0 303.0 994.3 300.3 997.7 298.3C1002.7 295.5 1007.7 293.9 1012.7 292.5C1021.0 290.2 1029.3 290.6 1037.7 290.0C1046.0 289.4 1054.3 289.4 1062.7 289.2C1069.0 289.0 1075.3 288.9 1081.7 288.8"/>
<path d="M825.0 243.0C832.0 244.8 839.0 247.7 846.0 251.7C851.6 254.8 857.1 259.4 862.7 263.3C868.2 267.2 873.8 271.7 879.3 275.0C883.8 277.6 888.2 279.9 892.7 281.7C897.7 283.6 902.7 284.7 907.7 285.8C914.9 287.5 922.1 288.0 929.3 289.2C934.3 290.0 939.3 290.1 944.3 291.7C947.7 292.7 951.0 293.9 954.3 295.8C957.7 297.8 961.0 300.4 964.3 303.3C968.2 306.7 972.1 311.4 976.0 315.0C979.9 318.6 983.8 322.1 987.7 325.0C991.0 327.5 994.3 329.4 997.7 331.7C1001.0 333.9 1004.3 336.0 1007.7 338.3C1012.1 341.5 1016.6 345.3 1021.0 348.3C1025.4 351.4 1029.9 354.5 1034.3 356.7C1038.2 358.5 1042.1 359.9 1046.0 360.8C1051.6 362.2 1057.1 362.1 1062.7 362.5C1069.0 362.9 1075.3 363.0 1081.7 363.0"/>
<path d="M1081.7 67.5C1087.8 66.8 1093.9 66.2 1100.0 65.8C1107.2 65.4 1114.4 65.0 1121.7 65.0C1130.0 65.0 1138.3 67.0 1146.7 67.0C1153.3 67.0 1160.0 66.9 1166.7 66.7C1172.2 66.5 1177.8 65.8 1183.3 65.8C1188.9 65.8 1194.4 67.8 1200.0 68.3C1203.9 68.7 1207.8 69.2 1211.7 69.2C1216.1 69.2 1220.6 67.1 1225.0 65.8C1229.4 64.6 1233.9 62.9 1238.3 61.7C1241.7 60.7 1245.0 59.9 1248.3 59.2"/>
<path d="M1081.7 75.3C1085.0 76.3 1088.3 77.3 1091.7 78.3C1097.2 80.1 1102.8 84.2 1108.3 84.2C1113.9 84.2 1119.4 82.4 1125.0 81.7C1130.6 81.0 1136.1 80.0 1141.7 80.0C1143.3 80.0 1145.0 80.3 1146.7 80.8C1149.4 81.6 1152.2 83.3 1155.0 85.0C1158.9 87.4 1162.8 91.2 1166.7 94.2C1170.6 97.1 1174.4 100.3 1178.3 102.5C1182.8 105.0 1187.2 107.5 1191.7 107.5C1196.1 107.5 1200.6 105.9 1205.0 104.2C1208.9 102.7 1212.8 99.8 1216.7 98.3C1222.2 96.2 1227.8 95.8 1233.3 95.0C1238.9 94.2 1244.4 94.4 1250.0 93.3C1255.6 92.2 1261.1 90.3 1266.7 88.3C1272.2 86.4 1277.8 83.1 1283.3 81.7C1288.9 80.3 1294.4 80.0 1300.0 80.0C1305.6 80.0 1311.1 80.9 1316.7 81.7C1323.9 82.6 1331.1 83.9 1338.3 85.5"/>
<path d="M1081.7 95.0C1087.8 94.2 1093.9 93.3 1100.0 93.3C1105.6 93.3 1111.1 93.3 1116.7 93.3C1121.1 93.3 1125.6 95.8 1130.0 97.5C1133.9 99.0 1137.8 101.5 1141.7 102.5C1144.4 103.2 1147.2 103.7 1150.0 103.7C1152.8 103.7 1155.6 103.0 1158.3 101.7C1161.7 100.1 1165.0 96.6 1168.3 94.2C1173.3 90.5 1178.3 86.2 1183.3 83.3C1188.9 80.2 1194.4 78.1 1200.0 76.7C1205.6 75.3 1211.1 76.7 1216.7 75.0C1219.4 74.2 1222.2 72.9 1225.0 71.7C1228.3 70.2 1231.7 68.3 1235.0 66.7C1238.3 65.0 1241.7 63.1 1245.0 61.7C1247.2 60.7 1249.4 59.9 1251.7 59.2"/>
<path d="M1081.7 97.0C1085.0 97.2 1088.3 97.9 1091.7 99.2C1094.4 100.2 1097.2 101.5 1100.0 103.3C1103.9 105.9 1107.8 110.0 1111.7 113.3C1116.1 117.2 1120.6 122.4 1125.0 125.0C1127.8 126.6 1130.6 128.3 1133.3 128.3C1137.8 128.3 1142.2 127.5 1146.7 127.5C1149.4 127.5 1152.2 128.7 1155.0 130.0C1158.9 131.8 1162.8 135.8 1166.7 138.3C1170.6 140.8 1174.4 143.4 1178.3 145.0C1182.8 146.9 1187.2 147.4 1191.7 148.3C1195.0 149.0 1198.3 150.0 1201.7 150.0C1205.0 150.0 1208.3 148.6 1211.7 146.7C1216.1 144.2 1220.6 139.3 1225.0 135.0C1229.4 130.7 1233.9 125.6 1238.3 120.8C1242.2 116.6 1246.1 111.8 1250.0 108.0C1253.9 104.2 1257.8 100.8 1261.7 98.3C1266.1 95.5 1270.6 94.2 1275.0 93.0C1280.6 91.5 1286.1 91.3 1291.7 91.3C1297.2 91.3 1302.8 92.5 1308.3 92.5C1313.9 92.5 1319.4 91.3 1325.0 90.3C1329.4 89.6 1333.9 88.6 1338.3 87.5"/>
<path d="M1271.7 60.0C1278.3 60.1 1285.0 61.2 1291.7 63.3C1297.2 65.1 1302.8 68.1 1308.3 70.8C1313.9 73.6 1319.4 77.5 1325.0 80.0C1329.4 82.0 1333.9 83.7 1338.3 85.0"/>
<path d="M1081.7 133.0C1085.0 133.7 1088.3 134.9 1091.7 136.7C1096.1 139.0 1100.6 143.8 1105.0 146.7C1108.9 149.2 1112.8 151.7 1116.7 153.3C1121.1 155.2 1125.6 154.6 1130.0 156.7C1132.8 158.0 1135.6 159.7 1138.3 161.7C1141.1 163.6 1143.9 166.4 1146.7 168.3C1149.4 170.3 1152.2 173.3 1155.0 173.3C1158.9 173.3 1162.8 172.6 1166.7 171.7C1172.2 170.4 1177.8 167.2 1183.3 165.8C1188.9 164.4 1194.4 163.3 1200.0 163.3C1202.8 163.3 1205.6 165.4 1208.3 166.7C1212.2 168.5 1216.1 173.3 1220.0 173.3C1224.4 173.3 1228.9 171.3 1233.3 170.0C1238.9 168.4 1244.4 165.6 1250.0 164.2C1255.6 162.8 1261.1 163.4 1266.7 161.7C1269.4 160.8 1272.2 159.8 1275.0 158.3C1279.4 156.0 1283.9 151.9 1288.3 148.3C1292.2 145.2 1296.1 141.3 1300.0 138.3C1305.6 134.2 1311.1 130.7 1316.7 128.3C1323.9 125.2 1331.1 123.7 1338.3 123.7"/>
<path d="M1081.7 135.0C1085.0 136.9 1088.3 139.2 1091.7 141.7C1097.2 145.9 1102.8 151.7 1108.3 156.7C1113.9 161.7 1119.4 167.4 1125.0 171.7C1127.8 173.8 1130.6 176.0 1133.3 177.5C1137.8 179.9 1142.2 179.9 1146.7 181.3C1151.7 182.9 1156.7 184.8 1161.7 186.7C1166.1 188.3 1170.6 190.5 1175.0 191.7C1179.4 192.8 1183.9 193.7 1188.3 193.7C1192.8 193.7 1197.2 191.8 1201.7 190.3C1206.7 188.7 1211.7 184.2 1216.7 184.2C1219.4 184.2 1222.2 187.9 1225.0 190.0C1228.3 192.5 1231.7 196.3 1235.0 198.3C1239.4 201.0 1243.9 202.5 1248.3 202.5C1252.8 202.5 1257.2 201.5 1261.7 200.0C1266.1 198.5 1270.6 195.4 1275.0 193.3C1280.6 190.8 1286.1 188.1 1291.7 186.7C1294.4 185.9 1297.2 185.0 1300.0 185.0C1305.6 185.0 1311.1 187.3 1316.7 188.3C1323.9 189.7 1331.1 190.9 1338.3 192.0"/>
<path d="M1081.7 182.5C1089.4 182.9 1097.2 183.3 1105.0 183.3C1111.7 183.3 1118.3 183.3 1125.0 183.3C1130.6 183.3 1136.1 186.2 1141.7 187.5C1147.2 188.8 1152.8 190.8 1158.3 190.8C1161.7 190.8 1165.0 189.7 1168.3 188.3C1173.3 186.2 1178.3 182.2 1183.3 178.3C1188.9 174.0 1194.4 168.5 1200.0 163.3C1205.6 158.2 1211.1 152.9 1216.7 147.5C1222.2 142.1 1227.8 136.5 1233.3 130.8C1238.9 125.1 1244.4 117.6 1250.0 113.3C1253.9 110.3 1257.8 108.3 1261.7 106.7C1265.0 105.2 1268.3 104.3 1271.7 103.7C1274.4 103.2 1277.2 103.0 1280.0 103.0C1283.9 103.0 1287.8 104.0 1291.7 105.0C1297.2 106.5 1302.8 109.7 1308.3 111.7C1313.9 113.7 1319.4 115.7 1325.0 117.0C1329.4 118.0 1333.9 118.8 1338.3 119.2"/>
<path d="M1081.7 209.5C1089.4 208.3 1097.2 208.3 1105.0 208.3C1108.9 208.3 1112.8 210.5 1116.7 211.7C1122.2 213.4 1127.8 216.2 1133.3 217.5C1137.8 218.5 1142.2 219.2 1146.7 219.2C1150.6 219.2 1154.4 218.2 1158.3 217.5C1163.9 216.5 1169.4 214.3 1175.0 213.3C1180.6 212.4 1186.1 212.5 1191.7 211.7C1197.2 210.8 1202.8 209.7 1208.3 208.3C1213.9 206.9 1219.4 205.6 1225.0 203.3C1230.6 201.1 1236.1 198.5 1241.7 195.0C1246.1 192.2 1250.6 188.6 1255.0 185.0C1258.9 181.9 1262.8 177.1 1266.7 175.0C1269.4 173.5 1272.2 172.5 1275.0 172.5C1280.6 172.5 1286.1 174.4 1291.7 175.0C1297.2 175.6 1302.8 175.8 1308.3 175.8C1318.3 175.8 1328.3 175.8 1338.3 175.0"/>
<path d="M1081.7 233.3C1087.8 233.3 1093.9 233.1 1100.0 232.5C1108.3 231.7 1116.7 229.8 1125.0 228.3C1132.2 227.0 1139.4 225.3 1146.7 224.2C1153.3 223.1 1160.0 221.7 1166.7 221.7C1172.2 221.7 1177.8 221.7 1183.3 221.7C1188.9 221.7 1194.4 223.6 1200.0 224.2C1204.4 224.6 1208.9 225.0 1213.3 225.0C1217.2 225.0 1221.1 223.0 1225.0 221.7C1230.6 219.8 1236.1 216.5 1241.7 215.0C1247.2 213.5 1252.8 213.3 1258.3 212.5C1263.9 211.7 1269.4 211.2 1275.0 210.0C1280.6 208.8 1286.1 206.9 1291.7 205.0C1297.2 203.1 1302.8 200.3 1308.3 198.3C1313.9 196.4 1319.4 194.4 1325.0 193.3C1329.4 192.5 1333.9 192.0 1338.3 192.0"/>
<path d="M1081.7 246.7C1090.6 246.0 1099.4 245.4 1108.3 245.0C1115.6 244.6 1122.8 244.2 1130.0 244.2C1135.6 244.2 1141.1 245.6 1146.7 246.7C1153.3 248.0 1160.0 250.0 1166.7 251.7C1172.2 253.1 1177.8 255.0 1183.3 255.8C1186.1 256.2 1188.9 256.7 1191.7 256.7C1196.1 256.7 1200.6 254.9 1205.0 253.3C1208.9 252.0 1212.8 249.7 1216.7 248.3C1221.1 246.8 1225.6 246.9 1230.0 245.0C1233.9 243.4 1237.8 240.8 1241.7 238.3C1245.0 236.3 1248.3 233.2 1251.7 231.7C1255.0 230.1 1258.3 229.2 1261.7 229.2C1266.1 229.2 1270.6 230.3 1275.0 230.8C1283.3 231.9 1291.7 233.1 1300.0 234.2C1308.3 235.2 1316.7 236.1 1325.0 237.0C1329.4 237.5 1333.9 237.9 1338.3 238.3"/>
<path d="M1081.7 273.7C1085.0 273.2 1088.3 272.6 1091.7 271.7C1097.2 270.1 1102.8 266.8 1108.3 265.0C1113.9 263.2 1119.4 261.5 1125.0 260.8C1128.9 260.3 1132.8 260.3 1136.7 260.3C1140.0 260.3 1143.3 261.2 1146.7 261.7C1151.7 262.4 1156.7 263.7 1161.7 264.2C1166.1 264.6 1170.6 264.7 1175.0 264.7C1179.4 264.7 1183.9 261.7 1188.3 261.7C1193.9 261.7 1199.4 261.7 1205.0 261.7C1208.9 261.7 1212.8 261.7 1216.7 260.8C1220.6 260.0 1224.4 258.0 1228.3 256.7C1232.8 255.2 1237.2 253.7 1241.7 252.5C1247.2 251.0 1252.8 250.3 1258.3 249.2C1263.9 248.1 1269.4 246.9 1275.0 245.8C1283.3 244.3 1291.7 242.8 1300.0 241.7C1305.6 240.9 1311.1 240.2 1316.7 239.7C1323.9 239.0 1331.1 238.5 1338.3 238.3"/>
<path d="M1081.7 277.8C1087.8 277.4 1093.9 277.0 1100.0 276.7C1107.2 276.3 1114.4 276.1 1121.7 275.8C1126.7 275.7 1131.7 275.3 1136.7 275.3C1140.0 275.3 1143.3 275.6 1146.7 276.7C1149.4 277.6 1152.2 279.3 1155.0 280.8C1158.3 282.6 1161.7 285.3 1165.0 286.7C1168.3 288.1 1171.7 288.5 1175.0 289.2C1180.6 290.2 1186.1 290.3 1191.7 290.8C1195.0 291.1 1198.3 291.7 1201.7 291.7C1203.9 291.7 1206.1 290.9 1208.3 290.0C1211.1 288.9 1213.9 286.9 1216.7 285.0C1219.4 283.1 1222.2 280.3 1225.0 278.3C1227.8 276.4 1230.6 274.8 1233.3 273.3C1238.9 270.5 1244.4 269.2 1250.0 267.5C1255.6 265.8 1261.1 264.9 1266.7 263.3C1272.2 261.8 1277.8 260.3 1283.3 258.3C1288.9 256.4 1294.4 253.8 1300.0 251.7C1305.6 249.6 1311.1 247.6 1316.7 245.8C1321.7 244.2 1326.7 242.7 1331.7 241.3C1333.9 240.7 1336.1 240.2 1338.3 239.7"/>
<path d="M1081.7 288.8C1087.8 289.1 1093.9 289.5 1100.0 290.0C1108.3 290.7 1116.7 292.5 1125.0 292.5C1132.2 292.5 1139.4 292.5 1146.7 292.5C1151.7 292.5 1156.7 291.7 1161.7 291.7C1164.4 291.7 1167.2 293.3 1170.0 295.0C1173.3 297.0 1176.7 301.0 1180.0 303.3C1182.8 305.3 1185.6 307.8 1188.3 308.3C1190.0 308.7 1191.7 308.7 1193.3 308.7C1195.6 308.7 1197.8 307.0 1200.0 305.8C1202.8 304.4 1205.6 301.9 1208.3 300.8C1211.1 299.7 1213.9 299.2 1216.7 299.2C1222.2 299.2 1227.8 300.3 1233.3 300.3C1238.9 300.3 1244.4 300.3 1250.0 299.2C1253.9 298.3 1257.8 296.9 1261.7 295.0C1266.1 292.9 1270.6 290.0 1275.0 286.7C1280.6 282.5 1286.1 276.7 1291.7 271.7C1297.2 266.7 1302.8 261.1 1308.3 256.7C1313.9 252.2 1319.4 247.8 1325.0 245.0C1329.4 242.8 1333.9 241.2 1338.3 240.3"/>
<path d="M1081.7 300.0C1085.0 300.1 1088.3 300.6 1091.7 301.7C1096.1 303.0 1100.6 306.1 1105.0 308.3C1109.4 310.6 1113.9 313.1 1118.3 315.0C1123.3 317.1 1128.3 319.1 1133.3 320.0C1137.8 320.8 1142.2 320.6 1146.7 320.8C1151.7 321.1 1156.7 321.3 1161.7 321.3C1166.1 321.3 1170.6 321.3 1175.0 321.3C1178.3 321.3 1181.7 320.0 1185.0 319.2C1187.2 318.6 1189.4 317.5 1191.7 317.5C1193.9 317.5 1196.1 319.3 1198.3 320.8C1201.1 322.7 1203.9 326.0 1206.7 328.3C1209.4 330.7 1212.2 333.5 1215.0 335.0C1217.2 336.2 1219.4 337.0 1221.7 337.0C1223.9 337.0 1226.1 336.7 1228.3 335.8C1231.7 334.5 1235.0 331.2 1238.3 328.3C1242.8 324.5 1247.2 319.4 1251.7 315.0C1256.7 310.0 1261.7 304.8 1266.7 300.0C1272.2 294.7 1277.8 290.0 1283.3 285.0C1288.9 280.0 1294.4 275.0 1300.0 270.0C1305.6 265.0 1311.1 259.6 1316.7 255.0C1321.7 250.8 1326.7 245.8 1331.7 243.3C1333.9 242.2 1336.1 241.4 1338.3 240.8"/>
<path d="M1338.2 67.7C1342.3 67.7 1346.4 67.5 1350.4 66.4C1353.8 65.6 1357.2 64.4 1360.6 62.6C1362.7 61.5 1364.8 60.3 1367.0 58.8"/>
<path d="M1363.1 60.1C1367.4 63.1 1371.6 66.0 1375.9 69.0C1380.1 72.0 1384.3 75.1 1388.6 77.9C1392.0 80.1 1395.4 82.9 1398.7 84.2C1401.3 85.3 1403.8 86.2 1406.4 86.2C1408.9 86.2 1411.5 84.5 1414.0 83.0C1417.4 80.9 1420.8 77.3 1424.2 74.1C1427.1 71.3 1430.1 68.1 1433.1 65.2C1435.2 63.1 1437.3 60.9 1439.4 58.8"/>
<path d="M1388.6 58.8C1392.8 62.5 1397.0 66.7 1401.3 71.5C1404.7 75.4 1408.1 79.6 1411.5 84.2C1414.8 88.9 1418.2 95.0 1421.6 99.5C1425.4 104.5 1429.3 108.8 1433.1 112.2C1436.0 114.8 1439.0 117.0 1442.0 118.6C1444.4 119.8 1446.8 120.7 1449.2 121.1"/>
<path d="M1338.2 75.3C1342.3 76.0 1346.4 77.3 1350.4 79.2C1354.7 81.1 1358.9 84.2 1363.1 86.8C1365.3 88.1 1367.4 89.4 1369.5 90.6C1373.7 93.1 1378.0 95.2 1382.2 97.6C1386.5 100.0 1390.7 102.7 1394.9 105.2C1399.2 107.8 1403.4 110.4 1407.6 112.9C1410.6 114.6 1413.6 116.6 1416.5 117.9C1419.9 119.5 1423.3 120.2 1426.7 121.1C1431.0 122.2 1435.2 123.1 1439.4 123.7C1442.7 124.1 1446.0 124.3 1449.2 124.3"/>
<path d="M1338.2 95.4C1342.3 94.7 1346.4 93.9 1350.4 93.1C1353.8 92.5 1357.2 91.2 1360.6 91.2C1363.6 91.2 1366.5 92.1 1369.5 93.1C1373.7 94.6 1378.0 97.7 1382.2 100.1C1386.5 102.6 1390.7 105.2 1394.9 107.8C1399.2 110.3 1403.4 113.1 1407.6 115.4C1410.6 117.0 1413.6 118.5 1416.5 119.8C1419.9 121.3 1423.3 122.7 1426.7 123.7C1431.0 124.9 1435.2 125.7 1439.4 126.2C1442.7 126.6 1446.0 126.8 1449.2 126.8"/>
<path d="M1338.2 98.0C1342.3 98.0 1346.4 98.0 1350.4 98.9C1354.7 99.8 1358.9 101.8 1363.1 104.0C1367.4 106.1 1371.6 109.0 1375.9 111.6C1380.1 114.1 1384.3 116.8 1388.6 119.2C1392.8 121.6 1397.0 124.0 1401.3 126.2C1405.5 128.4 1409.8 130.8 1414.0 132.6C1418.2 134.4 1422.5 135.9 1426.7 137.0C1431.0 138.1 1435.2 138.7 1439.4 139.2C1442.7 139.6 1446.0 139.8 1449.2 139.9"/>
<path d="M1338.2 133.8C1342.3 134.5 1346.4 135.8 1350.4 137.6C1354.7 139.6 1358.9 143.0 1363.1 145.3C1366.5 147.1 1369.9 149.1 1373.3 150.4C1377.1 151.8 1380.9 152.9 1384.8 152.9C1388.6 152.9 1392.4 151.6 1396.2 151.0C1400.0 150.4 1403.8 149.1 1407.6 149.1C1411.9 149.1 1416.1 150.6 1420.4 151.6C1424.6 152.7 1428.8 154.4 1433.1 155.4C1438.5 156.7 1443.8 157.6 1449.2 158.0"/>
<path d="M1338.2 134.5C1341.4 136.4 1344.7 138.7 1347.9 141.5C1351.3 144.4 1354.7 148.5 1358.1 151.6C1361.4 154.8 1364.8 158.1 1368.2 160.5C1371.6 163.0 1375.0 165.0 1378.4 166.3C1381.8 167.5 1385.2 168.2 1388.6 168.2C1392.0 168.2 1395.4 167.1 1398.7 165.6C1402.1 164.1 1405.5 161.6 1408.9 159.3C1412.3 156.9 1415.7 153.7 1419.1 151.6C1422.5 149.5 1425.9 147.7 1429.3 146.5C1432.6 145.4 1436.0 145.0 1439.4 144.6C1442.7 144.3 1446.0 144.3 1449.2 144.3"/>
<path d="M1338.2 182.1C1344.4 183.4 1350.6 183.4 1356.8 183.4C1361.0 183.4 1365.3 181.2 1369.5 179.6C1373.7 178.0 1378.0 175.2 1382.2 173.9C1385.2 173.0 1388.1 172.0 1391.1 172.0C1394.5 172.0 1397.9 173.5 1401.3 174.5C1405.5 175.8 1409.8 177.6 1414.0 179.0C1418.2 180.3 1422.5 181.7 1426.7 182.8C1431.0 183.8 1435.2 184.8 1439.4 185.3C1442.7 185.7 1446.0 185.9 1449.2 186.0"/>
<path d="M1338.2 210.1C1344.4 208.2 1350.6 208.2 1356.8 208.2C1361.0 208.2 1365.3 210.9 1369.5 212.7C1373.7 214.5 1378.0 217.6 1382.2 219.0C1386.5 220.4 1390.7 220.9 1394.9 220.9C1398.7 220.9 1402.6 219.7 1406.4 218.4C1411.0 216.8 1415.7 213.8 1420.4 211.4C1424.6 209.2 1428.8 205.9 1433.1 204.4C1438.5 202.5 1443.8 202.5 1449.2 202.5"/>
<path d="M1338.2 246.4C1342.3 246.3 1346.4 245.9 1350.4 245.1C1354.7 244.2 1358.9 242.8 1363.1 241.3C1367.4 239.8 1371.6 237.9 1375.9 236.2C1380.1 234.5 1384.3 233.3 1388.6 231.1C1392.0 229.3 1395.4 227.3 1398.7 224.7C1401.3 222.8 1403.8 220.8 1406.4 218.4C1408.9 215.9 1411.5 212.8 1414.0 210.1C1417.4 206.6 1420.8 203.3 1424.2 199.9C1427.1 197.0 1430.1 193.3 1433.1 191.0C1435.2 189.4 1437.3 188.2 1439.4 187.2C1442.7 185.8 1446.0 185.3 1449.2 185.3"/>
<path d="M1449.2 65.8C1454.4 66.5 1459.6 67.1 1464.9 67.7C1469.1 68.2 1473.3 69.0 1477.6 69.0C1481.8 69.0 1486.1 68.8 1490.3 68.7C1494.5 68.6 1498.8 68.5 1503.0 68.4C1506.8 68.2 1510.6 68.0 1514.4 67.7"/>
<path d="M1449.2 97.0C1454.4 97.0 1459.6 96.8 1464.9 96.3C1469.1 95.9 1473.3 95.6 1477.6 94.4C1481.8 93.2 1486.1 91.8 1490.3 89.3C1493.7 87.3 1497.1 84.2 1500.5 81.7C1503.0 79.8 1505.5 77.2 1508.1 76.0C1510.2 75.0 1512.3 74.4 1514.4 74.3"/>
<path d="M1449.2 116.7C1453.6 116.7 1458.0 116.4 1462.3 115.4C1466.6 114.4 1470.8 112.7 1475.0 110.9C1479.3 109.1 1483.5 106.7 1487.7 104.6C1492.0 102.5 1496.2 99.7 1500.5 98.2C1503.0 97.4 1505.5 96.8 1508.1 96.3C1510.2 95.9 1512.3 95.6 1514.4 95.4"/>
<path d="M1449.2 149.1C1451.0 149.1 1452.9 148.7 1454.7 147.8C1457.2 146.6 1459.8 144.1 1462.3 141.5C1465.3 138.4 1468.3 133.8 1471.2 130.0C1474.2 126.2 1477.2 122.2 1480.1 118.6C1483.5 114.5 1486.9 110.3 1490.3 107.1C1493.7 104.0 1497.1 101.2 1500.5 99.5C1505.1 97.2 1509.8 97.2 1514.4 97.2"/>
<path d="M1449.2 160.5C1452.3 159.5 1455.4 157.9 1458.5 155.4C1461.5 153.1 1464.4 149.2 1467.4 146.5C1470.8 143.5 1474.2 141.0 1477.6 138.9C1481.0 136.8 1484.4 135.0 1487.7 133.8C1492.0 132.4 1496.2 131.9 1500.5 131.9C1505.1 131.9 1509.8 132.0 1514.4 132.8"/>
<path d="M1449.2 167.5C1452.3 167.5 1455.4 167.5 1458.5 166.9C1461.5 166.3 1464.4 164.8 1467.4 163.1C1470.8 161.1 1474.2 158.2 1477.6 155.4C1481.0 152.7 1484.4 149.3 1487.7 146.5C1491.1 143.8 1494.5 140.7 1497.9 138.9C1501.3 137.1 1504.7 136.4 1508.1 135.7C1510.2 135.4 1512.3 135.1 1514.4 135.1"/>
<path d="M1449.2 186.0C1452.3 185.3 1455.4 185.3 1458.5 185.3C1461.5 185.3 1464.4 187.7 1467.4 188.5C1470.8 189.4 1474.2 190.4 1477.6 190.4C1481.8 190.4 1486.1 188.4 1490.3 187.2C1494.5 186.1 1498.8 184.3 1503.0 183.4C1506.8 182.6 1510.6 182.1 1514.4 181.9"/>
<path d="M1449.2 203.8C1452.3 203.1 1455.4 202.5 1458.5 201.9C1462.7 201.0 1467.0 199.3 1471.2 199.3C1475.5 199.3 1479.7 201.1 1483.9 202.5C1488.2 203.9 1492.4 206.4 1496.6 207.6C1500.9 208.7 1505.1 209.1 1509.4 209.5C1511.1 209.6 1512.8 209.7 1514.4 209.7"/>
<path d="M1338.2 233.3C1342.3 233.3 1346.4 233.5 1350.4 234.1C1354.7 234.6 1358.9 235.8 1363.1 236.6C1367.4 237.5 1371.6 238.0 1375.9 239.2C1380.1 240.3 1384.3 242.1 1388.6 243.6C1392.8 245.1 1397.0 246.9 1401.3 248.1C1405.5 249.2 1409.8 249.9 1414.0 250.6C1418.2 251.3 1422.5 251.7 1426.7 252.1C1431.0 252.5 1435.2 252.7 1439.4 252.9C1442.7 253.0 1446.0 253.1 1449.2 253.1"/>
<path d="M1338.2 274.2C1342.3 273.4 1346.4 272.3 1350.4 270.9C1354.7 269.5 1358.9 267.4 1363.1 265.9C1367.4 264.3 1371.6 262.4 1375.9 261.4C1379.2 260.6 1382.6 260.1 1386.0 260.1C1389.4 260.1 1392.8 260.9 1396.2 262.7C1399.6 264.5 1403.0 267.7 1406.4 270.9C1409.8 274.2 1413.2 278.4 1416.5 282.4C1419.9 286.4 1423.3 291.0 1426.7 295.1C1429.3 298.2 1431.8 301.7 1434.3 304.0C1436.9 306.3 1439.4 308.0 1442.0 309.1C1444.4 310.1 1446.8 310.6 1449.2 310.6"/>
<path d="M1338.2 277.6C1342.3 277.1 1346.4 276.6 1350.4 276.0C1354.7 275.4 1358.9 274.5 1363.1 274.1C1367.4 273.7 1371.6 273.5 1375.9 273.5C1379.2 273.5 1382.6 274.1 1386.0 275.4C1389.4 276.7 1392.8 278.7 1396.2 281.1C1399.6 283.6 1403.0 286.8 1406.4 290.0C1409.8 293.2 1413.2 297.0 1416.5 300.2C1419.9 303.4 1423.3 306.5 1426.7 309.1C1430.1 311.6 1433.5 313.9 1436.9 315.4C1441.0 317.3 1445.1 318.2 1449.2 318.2"/>
<path d="M1338.2 288.7C1342.3 288.8 1346.4 289.4 1350.4 290.7C1354.7 291.9 1358.9 294.6 1363.1 296.4C1367.4 298.2 1371.6 300.0 1375.9 301.5C1380.1 302.9 1384.3 304.2 1388.6 305.3C1392.8 306.3 1397.0 307.1 1401.3 307.8C1405.5 308.6 1409.8 309.2 1414.0 309.7C1418.2 310.3 1422.5 309.7 1426.7 311.0C1428.8 311.6 1431.0 312.8 1433.1 313.5C1436.0 314.6 1439.0 315.6 1442.0 316.1C1444.4 316.5 1446.8 316.7 1449.2 316.7"/>
<path d="M1338.2 300.1C1342.3 300.1 1346.4 300.4 1350.4 301.5C1354.7 302.5 1358.9 304.6 1363.1 306.5C1367.4 308.5 1371.6 310.8 1375.9 312.9C1380.1 315.0 1384.3 317.4 1388.6 319.3C1392.8 321.2 1397.0 322.9 1401.3 324.3C1405.5 325.8 1409.8 327.2 1414.0 328.2C1418.2 329.1 1422.5 330.1 1426.7 330.1C1431.0 330.1 1435.2 330.1 1439.4 330.1C1442.7 330.1 1446.0 329.7 1449.2 329.4"/>
<path d="M1449.2 229.0C1452.3 226.8 1455.4 225.1 1458.5 223.9C1462.7 222.2 1467.0 221.4 1471.2 221.4C1475.5 221.4 1479.7 222.2 1483.9 223.3C1488.2 224.3 1492.4 226.2 1496.6 227.7C1500.9 229.2 1505.1 231.0 1509.4 232.2C1511.1 232.6 1512.8 233.1 1514.4 233.4"/>
<path d="M1449.2 239.8C1452.3 241.5 1455.4 243.0 1458.5 244.2C1462.7 246.0 1467.0 247.1 1471.2 248.1C1475.5 249.0 1479.7 250.0 1483.9 250.0C1488.2 250.0 1492.4 249.2 1496.6 248.7C1500.9 248.2 1505.1 247.3 1509.4 246.8C1511.1 246.6 1512.8 246.4 1514.4 246.3"/>
<path d="M1449.2 258.9C1452.3 258.2 1455.4 258.2 1458.5 258.2C1462.7 258.2 1467.0 260.6 1471.2 262.0C1475.5 263.5 1479.7 265.4 1483.9 267.1C1488.2 268.8 1492.4 270.6 1496.6 272.2C1500.9 273.8 1505.1 275.5 1509.4 276.7C1511.1 277.1 1512.8 277.6 1514.4 277.9"/>
<path d="M1449.2 277.9C1452.3 276.9 1455.4 276.0 1458.5 275.4C1462.7 274.5 1467.0 274.1 1471.2 274.1C1475.5 274.1 1479.7 275.3 1483.9 276.0C1488.2 276.8 1492.4 278.6 1496.6 278.6C1499.6 278.6 1502.6 278.6 1505.5 278.6C1508.5 278.6 1511.5 277.9 1514.4 277.3"/>
<path d="M1449.2 295.1C1454.4 294.0 1459.6 293.0 1464.9 291.9C1469.1 291.1 1473.3 290.2 1477.6 289.4C1481.8 288.5 1486.1 287.4 1490.3 286.8C1493.7 286.4 1497.1 286.2 1500.5 286.2C1503.4 286.2 1506.4 287.6 1509.4 288.1C1511.1 288.4 1512.8 288.6 1514.4 288.7"/>
<path d="M1449.2 338.3C1452.3 336.2 1455.4 334.1 1458.5 332.0C1462.7 329.0 1467.0 326.0 1471.2 323.1C1475.5 320.1 1479.7 316.9 1483.9 314.2C1488.2 311.4 1492.4 308.8 1496.6 306.5C1500.9 304.3 1505.1 302.0 1509.4 300.8C1511.1 300.4 1512.8 300.0 1514.4 299.8"/>
<path d="M1338.33 85.50l0.020 0.004M1338.33 87.50l0.019 -0.005M1338.33 85.00l0.019 0.006M1338.33 123.67l0.020 0.000M1338.33 192.00l0.020 0.003M1338.33 119.17l0.020 0.002M1338.33 175.00l0.020 -0.002M1338.33 192.00l0.020 -0.000M1338.33 238.33l0.020 0.002M1338.33 238.33l0.020 -0.001M1338.33 239.67l0.019 -0.005M1338.33 240.33l0.020 -0.004M1338.33 240.83l0.019 -0.005M1338.22 67.71l0.020 0.000M1449.22 121.12l0.020 0.004M1338.22 75.34l0.020 0.003M1449.22 124.29l0.020 0.000M1338.22 95.43l0.020 -0.004M1449.22 126.84l0.020 0.000M1338.22 97.98l0.020 0.000M1449.22 139.93l0.020 0.001M1338.22 133.83l0.020 0.003M1449.22 157.99l0.020 0.002M1338.22 134.47l0.017 0.010M1449.22 144.26l0.020 0.000M1338.22 182.15l0.020 0.004M1449.22 185.96l0.020 0.000M1338.22 210.12l0.019 -0.006M1449.22 202.49l0.020 0.000M1338.22 246.35l0.020 -0.000M1449.22 185.32l0.020 0.000M1449.22 65.81l0.020 0.003M1449.22 96.96l0.020 0.000M1449.22 116.67l0.020 0.000M1449.22 149.09l0.020 0.000M1449.22 160.53l0.019 -0.006M1449.22 167.52l0.020 0.000M1449.22 185.96l0.020 -0.004M1449.22 203.76l0.020 -0.004M1338.22 233.31l0.020 0.000M1449.22 253.14l0.020 0.000M1338.22 274.25l0.020 -0.004M1449.22 310.61l0.020 0.000M1338.22 277.56l0.020 -0.002M1449.22 318.24l0.020 0.000M1338.22 288.74l0.020 0.000M1449.22 316.72l0.020 0.000M1338.22 300.06l0.020 0.000M1449.22 329.43l0.020 -0.002M1449.22 228.99l0.016 -0.011M1449.22 239.79l0.017 0.010M1449.22 258.87l0.020 -0.004M1449.22 277.94l0.019 -0.007M1449.22 295.10l0.020 -0.004M1449.22 338.33l0.017 -0.011" stroke-linecap="square"/>
</g>
<line x1="300.5" y1="341.39" x2="1514.5" y2="341.39" stroke="#808080" stroke-width="5.2" stroke-dasharray="19.2 8.3"/>
<circle cx="406.2" cy="341.4" r="4.1" fill="#ff0000"/>
</g>
<rect x="300.5" y="59.5" width="1214.0" height="1071.7" fill="none" stroke="#cccccc" stroke-width="6.5"/>
<g font-size="62.4" text-anchor="end">
<text transform="translate(267.1 81.7) scale(1 1.027)">50</text>
<text transform="translate(267.1 222.6) scale(1 1.027)">25</text>
<text transform="translate(267.1 363.6) scale(1 1.027)">0</text>
<text transform="translate(267.1 504.5) scale(1 1.027)">−25</text>
<text transform="translate(267.1 645.5) scale(1 1.027)">−50</text>
<text transform="translate(267.1 786.4) scale(1 1.027)">−75</text>
<text transform="translate(267.1 927.4) scale(1 1.027)">−100</text>
<text transform="translate(267.1 1068.3) scale(1 1.027)">−125</text>
</g>
<text font-size="75" text-anchor="middle" transform="translate(90.2 594.5) rotate(-90) scale(1.005 1.03)">Energy (eV)</text>
<g font-size="62.4" text-anchor="middle">
<text transform="translate(299.3 1206.7) scale(1.05 1.037)">Γ</text>
<text transform="translate(431.9 1206.7) scale(1.05 1.037)">X</text>
<text transform="translate(562.6 1206.7) scale(1.05 1.037)">P</text>
<text transform="translate(689.6 1206.7) scale(1.05 1.037)">N</text>
<text transform="translate(823.9 1206.7) scale(1.05 1.037)">Γ</text>
<text transform="translate(1081.7 1206.7) scale(1.05 1.037)">M</text>
<text transform="translate(1514.4 1206.7) scale(1.05 1.037)">M</text>
<text transform="translate(1143.6 1210.2) scale(1.05 1.037)">S</text>
<text transform="translate(1128.0 1275.6) scale(1.05 1.037)">S</text>
<text transform="translate(1162.8 1293.5) scale(1.03 1.03)" font-size="43.7">0</text>
<text transform="translate(1334.5 1209.3) scale(1.05 1.037)">Γ</text>
<text transform="translate(1333.0 1273.4) scale(1.05 1.037)">X</text>
<text transform="translate(1444.2 1209.3) scale(1.05 1.037)">R</text>
<text transform="translate(1445.9 1273.8) scale(1.05 1.037)">G</text>
</g>
<g stroke="#262626" stroke-width="4.3">
<line x1="1108" y1="1224.2" x2="1177.8" y2="1224.2"/>
<line x1="1312.2" y1="1222.8" x2="1354" y2="1222.8"/>
<line x1="1420.8" y1="1222.8" x2="1469.2" y2="1222.8"/>
</g>
</svg></body></html>
